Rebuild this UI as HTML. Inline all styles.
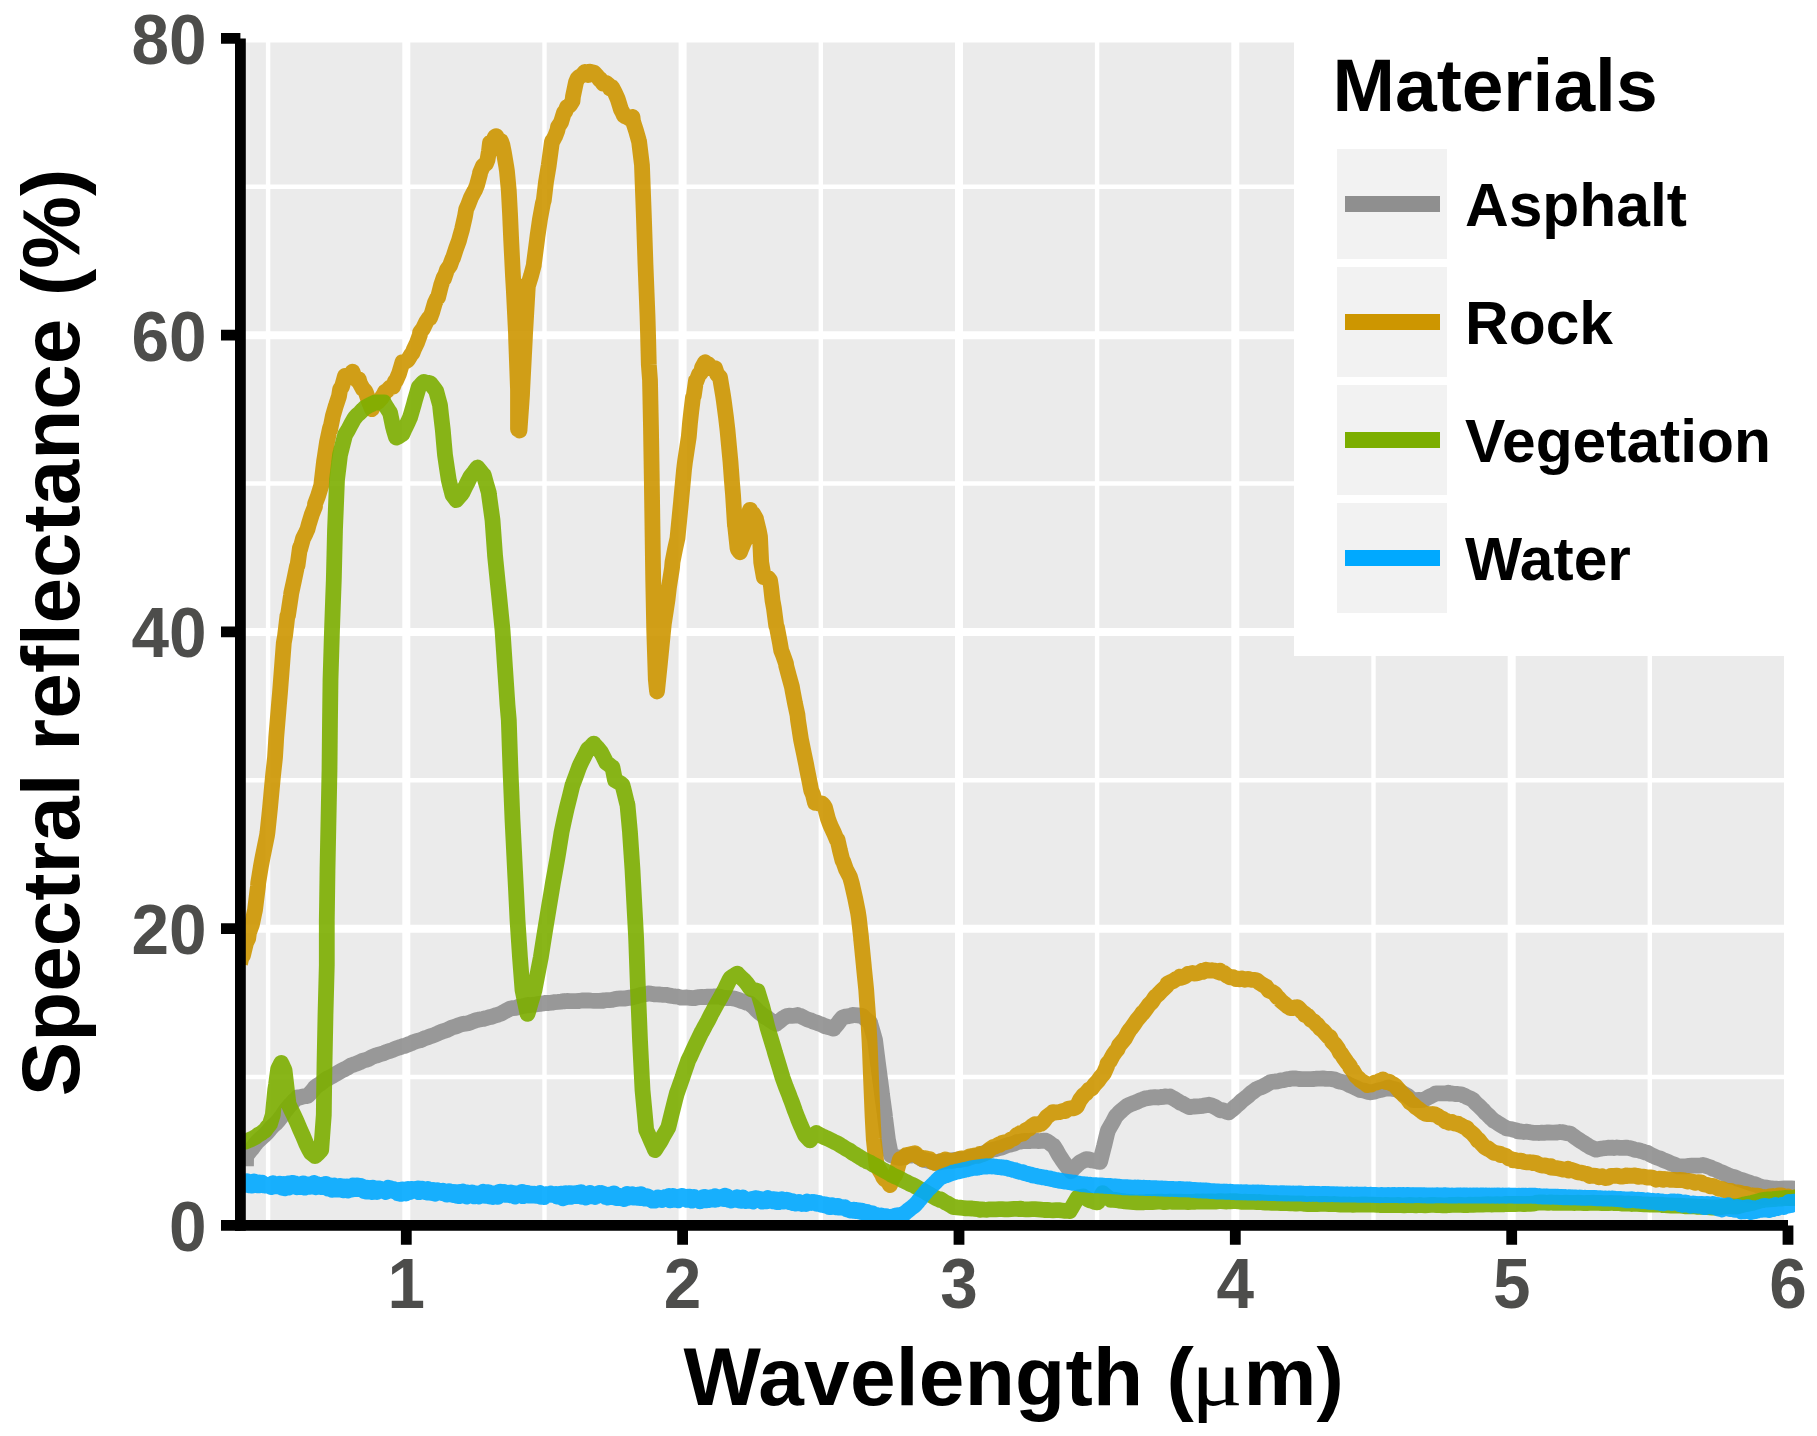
<!DOCTYPE html>
<html lang="en"><head><meta charset="utf-8"><title>Spectral reflectance</title>
<style>
html,body{margin:0;padding:0;background:#fff}
body{width:1817px;height:1436px;overflow:hidden}
svg{display:block}
text{font-family:"Liberation Sans",Arial,Helvetica,sans-serif;font-weight:bold}
.tk{font-size:68.5px;fill:#4d4d4b}
.at{font-size:82px;fill:#000}
text.mu,.mu{font-family:"Liberation Serif","DejaVu Serif",serif;font-weight:normal}
.lt{font-size:75px;fill:#000}
.ll{font-size:60.5px;fill:#000}
</style></head><body>
<svg width="1817" height="1436" viewBox="0 0 1817 1436">
<rect width="1817" height="1436" fill="#fff"/>
<rect x="240.4" y="38.4" width="1547.6" height="1187.0" fill="#ebebeb"/>
<path d="M268.1,38.4 V1225.4 M544.5,38.4 V1225.4 M820.8,38.4 V1225.4 M1097.1,38.4 V1225.4 M1373.5,38.4 V1225.4 M1649.8,38.4 V1225.4 M240.4,1077.0 H1788.0 M240.4,780.3 H1788.0 M240.4,483.5 H1788.0 M240.4,186.8 H1788.0" stroke="#fff" stroke-width="4.4" fill="none"/>
<path d="M406.3,34.4 V1225.4 M682.6,34.4 V1225.4 M959.0,34.4 V1225.4 M1235.3,34.4 V1225.4 M1511.7,34.4 V1225.4 M1788.0,34.4 V1225.4 M240.4,1225.4 H1792.0 M240.4,928.7 H1792.0 M240.4,631.9 H1792.0 M240.4,335.2 H1792.0 M240.4,38.4 H1792.0" stroke="#fff" stroke-width="8.0" fill="none"/>
<clipPath id="cp"><rect x="240.4" y="0" width="1554.6" height="1436"/></clipPath>
<g clip-path="url(#cp)">
<path d="M246.0,1166.2 L246.1,1156.0 L249.0,1152.4 L250.0,1150.9 L252.0,1148.7 L255.0,1144.4 L256.5,1142.7 L258.0,1141.1 L261.0,1138.2 L264.0,1135.6 L264.0,1135.7 L267.0,1132.7 L270.0,1129.1 L273.0,1125.7 L276.0,1123.2 L278.0,1121.0 L279.0,1119.7 L282.0,1115.9 L285.0,1111.3 L288.0,1107.5 L290.0,1105.1 L291.0,1104.1 L294.0,1100.8 L297.0,1098.3 L297.5,1097.4 L300.0,1097.6 L303.0,1096.6 L306.0,1096.0 L307.5,1096.1 L309.0,1094.4 L312.0,1091.3 L315.0,1087.5 L315.0,1087.4 L318.0,1085.2 L321.0,1083.2 L324.0,1080.8 L327.0,1078.7 L327.5,1078.8 L330.0,1077.2 L333.0,1075.7 L336.0,1073.8 L339.0,1072.1 L342.0,1070.4 L345.0,1069.0 L348.0,1067.3 L351.0,1065.4 L352.5,1064.9 L354.0,1064.5 L357.0,1063.3 L360.0,1062.1 L363.0,1060.6 L366.0,1059.9 L369.0,1058.8 L372.0,1057.0 L375.0,1055.8 L377.5,1055.2 L378.0,1054.9 L381.0,1054.0 L384.0,1053.1 L387.0,1051.8 L390.0,1050.9 L393.0,1049.8 L396.0,1048.5 L399.0,1047.5 L402.0,1046.7 L402.5,1046.1 L405.0,1045.8 L408.0,1044.5 L411.0,1043.4 L414.0,1041.9 L417.0,1040.9 L420.0,1040.3 L423.0,1039.1 L426.0,1037.8 L427.5,1037.4 L429.0,1036.8 L432.0,1035.8 L435.0,1034.7 L438.0,1033.3 L441.0,1032.0 L444.0,1030.9 L447.0,1029.9 L450.0,1028.6 L452.5,1027.3 L453.0,1027.3 L456.0,1026.4 L459.0,1025.2 L462.0,1024.1 L465.0,1023.7 L468.0,1023.2 L471.0,1022.2 L474.0,1021.0 L477.0,1019.9 L477.5,1020.1 L480.0,1019.3 L483.0,1019.0 L486.0,1018.2 L489.0,1017.3 L492.0,1016.7 L495.0,1015.5 L497.5,1014.9 L498.0,1014.7 L501.0,1013.6 L504.0,1011.9 L507.0,1010.3 L510.0,1008.6 L510.0,1008.7 L513.0,1008.1 L516.0,1007.8 L519.0,1006.6 L522.0,1006.3 L525.0,1005.8 L527.5,1004.9 L528.0,1005.4 L531.0,1005.0 L534.0,1004.7 L537.0,1004.2 L540.0,1003.8 L543.0,1003.4 L546.0,1002.8 L549.0,1003.0 L552.0,1002.7 L555.0,1002.1 L558.0,1001.9 L561.0,1001.6 L564.0,1001.2 L565.0,1001.3 L567.0,1001.0 L570.0,1001.1 L573.0,1001.2 L576.0,1001.2 L579.0,1001.0 L582.0,1000.5 L585.0,1000.5 L588.0,1000.4 L591.0,1000.7 L594.0,1000.9 L597.0,1000.9 L600.0,1000.9 L602.5,1000.5 L603.0,1000.8 L606.0,1000.1 L609.0,1000.2 L612.0,999.9 L615.0,999.1 L618.0,998.6 L621.0,998.3 L624.0,998.6 L627.0,998.1 L630.0,997.6 L630.0,997.9 L633.0,997.2 L636.0,996.4 L639.0,995.4 L642.0,994.7 L645.0,994.2 L647.5,993.7 L648.0,993.5 L651.0,993.7 L654.0,994.3 L657.0,994.4 L660.0,994.5 L663.0,994.8 L665.0,994.9 L666.0,994.8 L669.0,995.4 L672.0,996.0 L675.0,996.4 L678.0,996.7 L680.0,997.3 L681.0,997.7 L684.0,997.7 L687.0,997.5 L690.0,997.8 L693.0,998.2 L695.0,998.1 L696.0,997.6 L699.0,997.2 L702.0,996.9 L705.0,997.1 L708.0,996.6 L711.0,996.7 L714.0,996.5 L715.0,996.3 L717.0,996.6 L720.0,996.7 L723.0,997.6 L726.0,998.0 L729.0,998.1 L732.0,998.2 L735.0,998.8 L735.0,998.8 L738.0,999.7 L741.0,1000.8 L744.0,1001.6 L747.0,1002.8 L750.0,1003.4 L750.0,1003.9 L753.0,1006.2 L756.0,1009.4 L759.0,1012.2 L762.0,1014.5 L762.5,1015.0 L765.0,1016.9 L768.0,1018.4 L771.0,1020.7 L774.0,1022.6 L776.2,1023.7 L777.0,1023.2 L780.0,1020.8 L783.0,1018.2 L786.0,1016.6 L786.2,1016.2 L789.0,1015.6 L792.0,1015.8 L795.0,1015.7 L797.5,1015.0 L798.0,1015.4 L801.0,1016.2 L804.0,1017.8 L807.0,1019.3 L810.0,1020.3 L810.0,1020.1 L813.0,1021.4 L816.0,1022.4 L819.0,1023.6 L822.0,1024.7 L825.0,1026.3 L825.0,1026.1 L828.0,1027.1 L831.0,1027.7 L833.8,1028.7 L834.0,1028.0 L837.0,1024.6 L840.0,1020.5 L842.5,1017.5 L843.0,1017.3 L846.0,1016.5 L849.0,1016.1 L852.0,1015.5 L852.5,1014.9 L855.0,1015.1 L858.0,1015.4 L861.0,1015.8 L862.5,1016.1 L864.0,1017.8 L867.0,1020.3 L870.0,1022.5 L870.0,1022.6 L873.0,1032.8 L875.0,1039.8 L876.0,1047.7 L878.2,1065.0 L879.0,1071.1 L881.5,1089.9 L882.0,1094.3 L884.8,1114.8 L885.0,1117.0 L888.0,1140.3 L888.0,1139.9 L891.0,1155.3 L891.0,1154.8 L894.0,1156.1 L897.0,1157.4 L900.0,1157.9 L900.0,1157.9 L903.0,1157.4 L906.0,1156.1 L907.5,1156.1 L909.0,1155.4 L912.0,1155.5 L915.0,1154.6 L915.0,1154.8 L918.0,1156.7 L921.0,1158.5 L922.5,1159.2 L924.0,1160.0 L927.0,1160.5 L930.0,1161.2 L933.0,1162.0 L935.0,1162.8 L936.0,1162.7 L939.0,1161.7 L940.0,1161.2 L942.0,1161.5 L945.0,1161.4 L948.0,1160.6 L951.0,1160.6 L954.0,1160.1 L957.0,1159.7 L960.0,1159.5 L960.0,1160.0 L963.0,1159.3 L966.0,1158.7 L969.0,1158.0 L972.0,1156.8 L975.0,1156.1 L978.0,1155.5 L979.8,1154.9 L981.0,1154.3 L984.0,1153.1 L987.0,1151.7 L990.0,1150.3 L990.0,1150.7 L993.0,1149.5 L996.0,1149.1 L999.0,1148.0 L999.5,1147.9 L1002.0,1147.4 L1005.0,1146.2 L1008.0,1145.0 L1011.0,1144.4 L1014.0,1143.6 L1017.0,1142.1 L1019.4,1141.7 L1020.0,1141.7 L1023.0,1141.1 L1026.0,1140.8 L1029.0,1141.2 L1032.0,1140.6 L1032.6,1140.9 L1035.0,1140.5 L1038.0,1141.1 L1041.0,1140.9 L1044.0,1140.6 L1045.8,1140.7 L1047.0,1141.3 L1050.0,1143.3 L1053.0,1145.7 L1053.8,1146.0 L1056.0,1149.6 L1059.0,1155.1 L1061.7,1159.2 L1062.0,1159.7 L1065.0,1164.0 L1068.0,1167.9 L1071.0,1171.2 L1071.0,1171.3 L1074.0,1168.1 L1077.0,1165.2 L1078.9,1163.5 L1080.0,1162.4 L1083.0,1160.9 L1085.5,1159.5 L1086.0,1159.1 L1089.0,1159.4 L1092.0,1160.5 L1094.8,1160.8 L1095.0,1160.7 L1098.0,1161.6 L1100.1,1161.9 L1101.0,1158.4 L1104.0,1146.3 L1104.1,1146.2 L1107.0,1134.0 L1108.0,1130.4 L1110.0,1126.9 L1113.0,1121.6 L1116.0,1115.8 L1116.0,1116.2 L1119.0,1112.9 L1122.0,1110.1 L1125.0,1107.7 L1127.9,1105.3 L1128.0,1105.5 L1131.0,1104.1 L1134.0,1103.0 L1137.0,1101.8 L1140.0,1100.4 L1143.0,1099.3 L1145.1,1098.4 L1146.0,1098.3 L1149.0,1097.9 L1152.0,1097.4 L1155.0,1097.2 L1158.0,1097.5 L1161.0,1097.0 L1164.0,1096.8 L1164.9,1096.4 L1167.0,1096.6 L1170.0,1096.7 L1170.0,1096.4 L1173.0,1098.2 L1176.0,1099.9 L1179.0,1101.7 L1180.0,1102.6 L1182.0,1103.2 L1185.0,1105.0 L1188.0,1106.5 L1190.0,1107.2 L1191.0,1106.9 L1194.0,1106.5 L1197.0,1106.3 L1200.0,1106.1 L1203.0,1105.8 L1206.0,1105.2 L1209.0,1104.7 L1210.0,1105.0 L1212.0,1105.6 L1215.0,1107.0 L1218.0,1108.9 L1220.0,1110.2 L1221.0,1109.9 L1224.0,1110.7 L1227.0,1111.9 L1228.8,1112.4 L1230.0,1111.2 L1233.0,1108.9 L1236.0,1106.1 L1239.0,1103.7 L1240.0,1102.7 L1242.0,1100.7 L1245.0,1098.3 L1248.0,1096.0 L1251.0,1093.1 L1254.0,1091.1 L1255.0,1090.2 L1257.0,1088.8 L1260.0,1087.7 L1263.0,1086.4 L1266.0,1084.9 L1269.0,1083.0 L1270.0,1082.4 L1272.0,1081.8 L1275.0,1081.5 L1278.0,1081.3 L1281.0,1080.4 L1284.0,1080.2 L1287.0,1079.1 L1290.0,1079.0 L1290.0,1078.6 L1293.0,1078.5 L1296.0,1078.5 L1299.0,1079.0 L1302.0,1079.1 L1305.0,1079.2 L1308.0,1079.2 L1311.0,1079.1 L1314.0,1079.0 L1317.0,1078.6 L1320.0,1078.6 L1323.0,1078.4 L1326.0,1078.8 L1329.0,1078.9 L1330.0,1078.8 L1332.0,1079.1 L1335.0,1079.6 L1338.0,1081.0 L1341.0,1081.8 L1344.0,1082.4 L1345.0,1082.6 L1347.0,1083.6 L1350.0,1085.3 L1353.0,1086.6 L1356.0,1087.9 L1359.0,1089.4 L1360.0,1089.9 L1362.0,1090.3 L1365.0,1090.8 L1368.0,1092.0 L1370.0,1092.3 L1371.0,1092.2 L1374.0,1091.7 L1377.0,1090.7 L1380.0,1090.1 L1383.0,1089.3 L1386.0,1088.6 L1387.5,1088.7 L1387.5,1087.6 L1389.0,1087.5 L1392.0,1088.7 L1395.0,1089.3 L1398.0,1089.9 L1398.0,1089.8 L1401.0,1092.1 L1404.0,1093.8 L1407.0,1095.5 L1410.0,1097.9 L1413.0,1100.0 L1413.0,1100.2 L1416.0,1100.1 L1419.0,1100.0 L1422.0,1100.1 L1423.0,1099.9 L1425.0,1099.2 L1428.0,1097.4 L1431.0,1096.0 L1434.0,1094.5 L1435.5,1093.6 L1437.0,1093.4 L1440.0,1093.3 L1443.0,1093.3 L1446.0,1093.4 L1448.0,1092.8 L1449.0,1093.6 L1452.0,1093.5 L1455.0,1094.0 L1458.0,1094.0 L1461.0,1094.3 L1463.0,1095.2 L1464.0,1095.3 L1467.0,1097.2 L1470.0,1098.3 L1473.0,1100.1 L1473.0,1100.2 L1476.0,1103.4 L1479.0,1106.0 L1482.0,1109.1 L1483.0,1109.9 L1485.0,1112.3 L1488.0,1115.0 L1491.0,1118.2 L1493.0,1119.8 L1494.0,1120.8 L1497.0,1122.6 L1500.0,1124.5 L1503.0,1126.4 L1505.5,1127.6 L1506.0,1128.2 L1509.0,1128.8 L1512.0,1129.3 L1515.0,1130.1 L1518.0,1130.9 L1518.0,1131.4 L1521.0,1131.5 L1524.0,1132.0 L1527.0,1131.7 L1530.0,1132.3 L1533.0,1132.8 L1536.0,1132.8 L1538.0,1132.8 L1539.0,1133.0 L1542.0,1132.6 L1545.0,1132.8 L1548.0,1132.3 L1551.0,1132.7 L1554.0,1132.7 L1557.0,1132.5 L1560.0,1132.0 L1563.0,1132.3 L1563.0,1132.1 L1566.0,1133.2 L1569.0,1133.3 L1570.5,1133.9 L1572.0,1135.0 L1575.0,1137.2 L1578.0,1139.2 L1581.0,1141.3 L1583.0,1142.5 L1584.0,1143.1 L1587.0,1145.1 L1590.0,1146.9 L1593.0,1148.2 L1595.5,1149.5 L1596.0,1149.7 L1599.0,1149.1 L1602.0,1148.5 L1605.0,1148.2 L1608.0,1147.7 L1611.0,1147.9 L1613.0,1147.6 L1614.0,1148.0 L1617.0,1147.5 L1620.0,1147.8 L1623.0,1147.8 L1626.0,1147.6 L1628.0,1147.9 L1629.0,1148.0 L1632.0,1148.7 L1635.0,1149.9 L1638.0,1150.2 L1641.0,1151.0 L1644.0,1151.9 L1645.5,1152.4 L1647.0,1152.7 L1650.0,1154.4 L1653.0,1155.8 L1656.0,1157.3 L1659.0,1158.2 L1662.0,1159.4 L1663.0,1160.1 L1665.0,1160.8 L1668.0,1161.9 L1671.0,1163.3 L1674.0,1164.4 L1677.0,1165.9 L1678.0,1166.3 L1680.0,1166.4 L1683.0,1166.3 L1686.0,1166.3 L1689.0,1165.9 L1692.0,1165.6 L1695.0,1165.7 L1698.0,1165.6 L1701.0,1165.3 L1703.0,1165.0 L1704.0,1165.3 L1707.0,1166.3 L1710.0,1167.2 L1713.0,1168.9 L1713.0,1168.7 L1716.0,1169.7 L1719.0,1171.3 L1722.0,1172.4 L1725.0,1173.9 L1728.0,1175.1 L1731.0,1176.5 L1734.0,1177.0 L1737.0,1178.3 L1738.0,1178.9 L1740.0,1179.5 L1743.0,1180.4 L1746.0,1181.5 L1749.0,1182.5 L1752.0,1183.6 L1755.0,1184.3 L1758.0,1185.6 L1761.0,1186.7 L1763.0,1187.4 L1764.0,1187.4 L1767.0,1187.7 L1770.0,1188.3 L1773.0,1188.5 L1776.0,1188.6 L1778.0,1188.8 L1779.0,1188.9 L1782.0,1188.7 L1785.0,1188.5 L1788.0,1188.3 L1791.0,1188.4 L1794.0,1188.7 L1795.0,1188.8 L1805.0,1188.8" fill="none" stroke="#8f8f8f" stroke-opacity="0.9" stroke-width="15.8" stroke-linejoin="round" stroke-linecap="butt"/>
<path d="M240.0,963.6 L242.5,952.8 L243.0,955.5 L246.0,943.0 L248.2,938.3 L249.0,932.5 L252.0,924.2 L254.2,913.6 L255.0,910.0 L258.0,885.9 L258.2,883.1 L261.0,865.8 L262.5,857.8 L264.0,850.4 L267.0,835.7 L267.5,832.2 L270.0,808.2 L271.2,795.3 L273.0,776.0 L275.0,757.7 L276.0,741.8 L276.2,737.8 L279.0,704.0 L280.0,692.6 L282.0,666.7 L283.8,642.8 L285.0,636.2 L287.5,615.1 L288.0,615.3 L291.0,595.4 L291.2,593.5 L294.0,580.6 L297.0,566.1 L297.5,565.6 L300.0,547.2 L300.0,549.7 L303.0,538.6 L306.0,532.6 L307.5,529.3 L309.0,523.6 L312.0,513.9 L315.0,506.6 L315.0,504.0 L318.0,496.1 L321.0,486.4 L321.2,485.8 L324.0,461.8 L325.0,455.5 L327.0,442.1 L330.0,428.1 L330.0,430.3 L333.0,415.4 L336.0,405.2 L336.2,404.8 L339.0,396.3 L340.0,390.0 L340.1,389.3 L342.0,386.6 L345.0,375.9 L345.0,377.1 L348.0,376.9 L351.0,375.5 L352.5,371.6 L354.0,376.0 L357.0,380.0 L358.8,379.3 L360.0,383.6 L363.0,389.1 L365.0,390.8 L366.0,392.8 L369.0,401.8 L372.0,409.2 L372.5,407.4 L375.0,403.5 L378.0,401.7 L381.0,398.6 L384.0,394.0 L385.0,391.8 L387.0,390.8 L390.0,387.5 L393.0,386.7 L395.0,381.4 L396.0,380.6 L399.0,373.8 L402.0,363.8 L402.5,362.1 L405.0,362.0 L408.0,359.8 L411.0,354.8 L412.5,353.0 L414.0,349.1 L417.0,342.9 L420.0,334.5 L420.0,332.5 L423.0,328.6 L426.0,322.3 L429.0,317.7 L430.0,318.1 L432.0,312.7 L435.0,302.6 L437.5,297.3 L438.0,297.5 L441.0,285.6 L443.8,277.2 L444.0,278.8 L447.0,269.8 L450.0,265.5 L452.5,258.6 L453.0,258.0 L456.0,248.8 L459.0,240.5 L460.0,236.6 L462.0,229.6 L465.0,216.3 L466.2,209.2 L468.0,205.3 L471.0,197.4 L474.0,191.7 L475.0,190.2 L477.0,185.1 L480.0,173.9 L480.0,172.8 L483.0,165.8 L486.0,163.6 L487.5,159.8 L489.0,151.0 L490.0,142.7 L492.0,143.2 L495.0,136.8 L496.2,136.1 L498.0,139.7 L501.0,141.0 L502.5,145.4 L504.0,153.1 L506.2,166.0 L507.0,171.4 L508.8,190.8 L510.0,213.2 L511.2,240.4 L513.0,276.3 L513.8,289.9 L516.0,333.4 L516.2,341.2 L518.0,389.9 L518.0,429.3 L519.0,428.9 L519.5,430.5 L522.0,395.3 L522.2,390.5 L524.8,339.7 L525.0,335.0 L528.0,283.2 L528.0,285.6 L531.0,275.9 L533.8,265.3 L534.0,263.1 L537.0,240.2 L537.5,236.1 L540.0,219.0 L543.0,202.8 L543.8,200.3 L546.0,182.0 L548.8,165.1 L549.0,163.5 L552.0,141.2 L552.5,141.2 L555.0,136.6 L557.5,130.1 L558.0,126.9 L561.0,122.4 L564.0,112.5 L565.0,112.2 L567.0,107.1 L570.0,105.1 L572.5,101.1 L573.0,96.3 L576.0,82.1 L577.5,78.7 L579.0,77.1 L582.0,75.2 L585.0,71.9 L588.0,75.0 L590.0,71.6 L591.0,72.0 L594.0,72.7 L597.0,75.9 L600.0,80.0 L600.0,78.9 L603.0,83.5 L606.0,82.9 L609.0,85.4 L610.0,88.4 L612.0,87.2 L615.0,92.9 L617.5,98.5 L618.0,99.9 L621.0,109.6 L622.5,112.2 L624.0,115.9 L627.0,117.0 L630.0,118.9 L632.5,116.9 L633.0,121.3 L636.0,130.7 L638.8,140.5 L639.0,140.7 L642.0,165.4 L642.0,166.1 L643.8,214.3 L645.0,249.9 L645.5,264.9 L647.5,315.4 L648.0,332.6 L648.8,364.3 L650.0,379.8 L651.0,428.9 L651.0,429.1 L651.8,479.9 L652.5,529.3 L653.2,578.9 L654.0,619.1 L654.2,629.7 L655.8,679.1 L657.0,691.1 L657.0,691.5 L660.0,662.5 L663.0,631.9 L663.8,624.1 L666.0,609.9 L667.5,599.8 L669.0,586.9 L672.0,568.0 L672.5,562.0 L675.0,549.4 L677.5,538.1 L678.0,532.8 L681.0,502.2 L681.2,499.8 L684.0,469.9 L685.0,461.8 L687.0,448.6 L688.8,436.7 L690.0,422.9 L691.2,412.0 L693.0,397.3 L693.8,395.6 L696.0,380.5 L696.2,381.8 L699.0,374.3 L701.2,372.4 L702.0,367.8 L705.0,362.2 L705.0,363.2 L708.0,363.9 L711.0,367.4 L714.0,369.3 L715.0,368.1 L717.0,374.1 L720.0,377.4 L720.0,377.4 L723.0,395.3 L723.8,400.6 L726.0,417.2 L727.5,430.2 L729.0,446.2 L730.5,462.1 L732.0,482.4 L733.0,494.4 L735.0,526.0 L735.0,524.5 L737.5,547.9 L738.0,549.4 L740.0,552.3 L741.0,549.6 L744.0,542.2 L745.0,540.5 L747.0,522.0 L747.5,518.2 L750.0,509.8 L750.0,511.8 L753.0,513.6 L756.0,518.7 L756.2,520.0 L759.0,531.4 L760.0,536.8 L761.2,562.2 L762.0,567.1 L763.8,577.1 L765.0,577.3 L768.0,577.8 L770.0,580.2 L771.0,586.6 L772.5,600.3 L774.0,608.7 L776.2,625.6 L777.0,627.5 L780.0,643.4 L781.2,650.3 L783.0,655.0 L786.0,663.6 L786.2,665.7 L789.0,676.2 L792.0,687.2 L792.5,690.2 L795.0,703.4 L797.5,715.0 L798.0,720.0 L801.0,739.6 L801.2,740.5 L804.0,754.0 L806.2,764.7 L807.0,768.9 L810.0,784.0 L811.2,790.4 L813.0,794.6 L815.0,802.8 L816.0,802.1 L819.0,803.5 L822.0,803.5 L823.8,805.5 L825.0,807.5 L828.0,818.9 L830.0,824.4 L831.0,826.7 L834.0,833.0 L837.0,840.2 L837.5,839.6 L840.0,850.7 L842.5,860.6 L843.0,860.8 L846.0,869.4 L849.0,875.2 L850.0,877.0 L852.0,884.2 L855.0,897.6 L855.0,897.4 L858.0,912.4 L858.8,917.6 L861.0,936.8 L861.2,940.0 L861.3,940.5 L863.8,965.7 L864.0,968.1 L866.2,989.8 L867.0,1001.4 L868.0,1014.5 L869.5,1040.6 L870.0,1051.4 L870.5,1064.9 L871.5,1089.6 L872.5,1114.5 L873.0,1124.5 L873.8,1139.3 L876.0,1160.0 L876.5,1165.1 L879.0,1169.4 L882.0,1174.3 L883.2,1177.2 L885.0,1179.4 L888.0,1181.5 L890.0,1185.1 L891.0,1181.9 L894.0,1176.3 L895.0,1175.6 L897.0,1170.0 L900.0,1159.1 L900.0,1160.0 L903.0,1158.4 L906.0,1155.3 L907.5,1155.6 L909.0,1154.7 L912.0,1153.9 L915.0,1153.5 L915.0,1153.1 L918.0,1156.4 L921.0,1157.7 L922.5,1159.1 L924.0,1158.1 L927.0,1158.6 L930.0,1159.3 L933.0,1162.3 L935.0,1162.9 L936.0,1162.7 L939.0,1162.6 L940.0,1161.4 L942.0,1161.7 L945.0,1159.4 L948.0,1160.3 L951.0,1160.8 L954.0,1160.7 L957.0,1159.9 L959.8,1158.7 L960.0,1159.0 L963.0,1158.3 L966.0,1158.5 L969.0,1156.6 L972.0,1156.1 L975.0,1155.3 L978.0,1155.8 L979.7,1154.1 L981.0,1154.8 L984.0,1153.8 L987.0,1152.2 L990.0,1149.2 L993.0,1147.1 L996.0,1146.2 L999.0,1144.3 L999.5,1144.9 L1002.0,1143.0 L1005.0,1142.3 L1008.0,1141.6 L1011.0,1139.4 L1014.0,1138.3 L1017.0,1134.8 L1019.4,1134.4 L1020.0,1133.2 L1023.0,1133.5 L1026.0,1130.1 L1029.0,1128.7 L1032.0,1126.1 L1035.0,1124.2 L1038.0,1124.9 L1039.2,1123.6 L1041.0,1123.8 L1044.0,1120.8 L1047.0,1116.7 L1050.0,1114.4 L1052.5,1112.8 L1053.0,1112.1 L1056.0,1112.5 L1059.0,1112.2 L1062.0,1111.2 L1065.0,1110.6 L1065.7,1110.9 L1068.0,1108.7 L1071.0,1108.2 L1074.0,1108.3 L1076.3,1106.9 L1077.0,1106.2 L1080.0,1099.9 L1082.9,1096.1 L1083.0,1095.6 L1086.0,1093.4 L1089.0,1089.8 L1092.0,1088.2 L1092.2,1087.8 L1095.0,1084.1 L1098.0,1080.9 L1101.0,1076.7 L1102.7,1074.8 L1104.0,1073.0 L1107.0,1066.2 L1107.5,1063.5 L1110.0,1060.8 L1113.0,1055.1 L1116.0,1050.9 L1117.5,1049.2 L1119.0,1045.5 L1122.0,1042.0 L1125.0,1038.4 L1128.0,1032.6 L1130.0,1029.5 L1131.0,1028.5 L1134.0,1024.3 L1137.0,1019.9 L1140.0,1016.4 L1142.5,1012.8 L1143.0,1013.0 L1146.0,1009.0 L1149.0,1004.7 L1152.0,1001.9 L1155.0,997.0 L1155.0,997.2 L1158.0,994.5 L1161.0,991.3 L1164.0,988.5 L1167.0,985.6 L1167.5,983.7 L1170.0,982.3 L1173.0,981.1 L1176.0,979.1 L1179.0,977.9 L1180.0,976.6 L1182.0,977.7 L1185.0,976.3 L1188.0,973.9 L1191.0,973.5 L1192.5,973.0 L1194.0,973.5 L1197.0,973.4 L1200.0,972.3 L1202.5,970.6 L1203.0,971.9 L1206.0,969.6 L1209.0,970.7 L1211.8,970.1 L1212.0,970.3 L1215.0,970.6 L1218.0,971.8 L1220.0,970.7 L1221.0,972.9 L1224.0,972.9 L1227.0,975.8 L1227.5,975.9 L1230.0,977.3 L1233.0,977.1 L1236.0,979.1 L1236.2,978.3 L1239.0,979.3 L1242.0,978.5 L1245.0,979.8 L1248.0,978.9 L1251.0,979.8 L1254.0,979.8 L1255.0,979.8 L1257.0,980.6 L1260.0,983.1 L1263.0,984.9 L1265.0,986.2 L1266.0,986.4 L1269.0,990.7 L1272.0,991.8 L1275.0,993.8 L1277.5,997.3 L1278.0,997.4 L1281.0,1000.9 L1284.0,1003.3 L1287.0,1005.9 L1290.0,1007.7 L1290.0,1008.0 L1293.0,1008.0 L1296.0,1007.3 L1297.5,1007.2 L1299.0,1008.4 L1302.0,1011.8 L1305.0,1013.8 L1305.0,1015.0 L1308.0,1016.0 L1311.0,1019.9 L1314.0,1021.5 L1317.0,1024.9 L1317.5,1024.7 L1320.0,1028.3 L1323.0,1030.5 L1326.0,1033.9 L1329.0,1037.3 L1330.0,1037.0 L1332.0,1041.6 L1335.0,1044.5 L1338.0,1048.6 L1340.0,1052.7 L1341.0,1053.4 L1344.0,1058.2 L1347.0,1062.4 L1350.0,1066.2 L1350.0,1067.3 L1353.0,1070.9 L1356.0,1076.0 L1359.0,1078.8 L1360.0,1080.0 L1362.0,1081.4 L1365.0,1083.1 L1367.5,1085.2 L1368.0,1084.6 L1371.0,1084.7 L1374.0,1082.9 L1377.0,1082.4 L1380.0,1081.3 L1380.0,1080.8 L1383.0,1080.1 L1383.0,1079.5 L1386.0,1082.1 L1389.0,1081.6 L1392.0,1083.9 L1393.0,1084.0 L1395.0,1085.5 L1398.0,1089.0 L1401.0,1092.5 L1403.0,1094.3 L1404.0,1095.5 L1407.0,1098.2 L1410.0,1102.4 L1413.0,1104.3 L1413.0,1104.4 L1416.0,1107.3 L1419.0,1109.3 L1422.0,1111.7 L1423.0,1112.4 L1425.0,1113.6 L1428.0,1114.1 L1431.0,1114.1 L1433.0,1114.3 L1434.0,1114.1 L1437.0,1115.4 L1440.0,1117.6 L1443.0,1119.0 L1445.5,1121.6 L1446.0,1120.6 L1449.0,1122.7 L1452.0,1121.9 L1455.0,1123.7 L1458.0,1123.7 L1458.0,1124.3 L1461.0,1125.3 L1464.0,1127.0 L1467.0,1128.2 L1468.0,1130.0 L1470.0,1131.5 L1473.0,1134.0 L1476.0,1137.5 L1478.0,1140.6 L1479.0,1140.2 L1482.0,1144.2 L1485.0,1147.4 L1488.0,1149.0 L1488.0,1148.2 L1491.0,1150.7 L1494.0,1152.9 L1497.0,1153.2 L1500.0,1153.8 L1500.5,1155.0 L1503.0,1155.1 L1506.0,1156.1 L1509.0,1158.4 L1512.0,1159.3 L1513.0,1160.4 L1515.0,1159.8 L1518.0,1161.2 L1521.0,1160.6 L1524.0,1161.9 L1527.0,1162.3 L1530.0,1162.1 L1533.0,1163.2 L1533.0,1162.4 L1536.0,1163.0 L1539.0,1164.6 L1542.0,1165.7 L1545.0,1165.5 L1548.0,1166.3 L1550.5,1166.2 L1551.0,1167.6 L1554.0,1167.8 L1557.0,1168.1 L1560.0,1168.8 L1563.0,1169.5 L1566.0,1169.6 L1568.0,1168.7 L1569.0,1170.6 L1572.0,1170.0 L1575.0,1171.2 L1578.0,1172.4 L1581.0,1172.7 L1584.0,1173.5 L1587.0,1173.8 L1588.0,1174.9 L1590.0,1176.0 L1593.0,1175.6 L1596.0,1175.9 L1599.0,1177.3 L1602.0,1176.3 L1605.0,1178.1 L1608.0,1177.0 L1608.0,1177.9 L1611.0,1175.8 L1614.0,1175.8 L1617.0,1175.6 L1620.0,1176.5 L1623.0,1176.5 L1625.5,1175.6 L1626.0,1176.1 L1629.0,1175.6 L1632.0,1175.8 L1635.0,1175.4 L1638.0,1176.8 L1638.0,1175.9 L1641.0,1176.6 L1644.0,1176.6 L1647.0,1177.7 L1650.0,1177.3 L1653.0,1177.8 L1656.0,1179.7 L1659.0,1178.7 L1662.0,1178.8 L1663.0,1179.8 L1665.0,1179.0 L1668.0,1179.3 L1671.0,1179.9 L1674.0,1179.8 L1677.0,1180.1 L1680.0,1180.0 L1683.0,1180.1 L1686.0,1181.1 L1688.0,1181.6 L1689.0,1181.0 L1692.0,1181.5 L1695.0,1182.9 L1698.0,1182.1 L1701.0,1182.3 L1703.0,1184.0 L1704.0,1184.5 L1707.0,1184.8 L1710.0,1186.3 L1713.0,1185.9 L1716.0,1187.2 L1719.0,1188.9 L1722.0,1188.9 L1725.0,1190.4 L1725.5,1190.4 L1728.0,1191.0 L1731.0,1191.0 L1734.0,1192.8 L1737.0,1192.4 L1740.0,1192.9 L1743.0,1193.8 L1746.0,1193.8 L1749.0,1195.4 L1750.5,1195.2 L1752.0,1195.5 L1755.0,1195.6 L1758.0,1195.6 L1761.0,1196.7 L1764.0,1197.2 L1767.0,1197.2 L1770.0,1196.3 L1773.0,1196.0 L1775.5,1196.7 L1776.0,1196.3 L1779.0,1195.4 L1782.0,1195.4 L1785.0,1197.6 L1788.0,1196.4 L1791.0,1198.0 L1794.0,1198.1 L1795.0,1197.5 L1805.0,1197.5" fill="none" stroke="#cd9600" stroke-opacity="0.9" stroke-width="15.8" stroke-linejoin="round" stroke-linecap="butt"/>
<path d="M240.0,1142.3 L243.0,1141.9 L246.0,1141.2 L246.2,1141.4 L249.0,1140.1 L252.0,1138.9 L255.0,1137.3 L255.0,1137.5 L258.0,1135.0 L261.0,1133.4 L264.0,1131.1 L265.0,1130.6 L267.0,1127.6 L270.0,1124.0 L270.0,1123.8 L272.8,1114.9 L273.0,1112.6 L275.2,1089.9 L276.0,1084.9 L278.2,1068.8 L279.0,1067.4 L281.2,1062.9 L282.0,1064.7 L284.5,1070.0 L285.0,1074.0 L288.0,1099.6 L288.5,1103.9 L291.0,1109.4 L294.0,1115.7 L296.5,1121.1 L297.0,1122.3 L300.0,1129.3 L303.0,1136.0 L306.0,1143.3 L307.0,1145.4 L309.0,1149.3 L311.0,1152.9 L312.0,1153.7 L315.0,1155.9 L315.0,1156.2 L318.0,1153.4 L321.0,1150.3 L321.2,1150.1 L323.8,1114.9 L324.0,1098.5 L324.5,1064.9 L325.5,1014.9 L326.8,964.9 L326.8,920.0 L327.0,906.0 L327.5,869.9 L328.5,820.0 L329.5,770.1 L330.0,720.2 L330.0,720.1 L330.5,680.0 L332.0,630.1 L333.0,601.8 L333.8,580.0 L335.0,530.1 L336.0,505.1 L337.0,479.9 L339.0,463.5 L340.0,455.0 L342.0,447.0 L345.0,435.3 L345.0,435.0 L348.0,430.1 L351.0,424.4 L354.0,419.0 L355.0,417.6 L357.0,415.2 L360.0,412.7 L363.0,409.5 L365.0,407.5 L366.0,407.1 L369.0,405.4 L372.0,404.0 L375.0,402.4 L375.0,402.5 L378.0,402.4 L381.0,402.5 L383.8,402.4 L384.0,403.0 L387.0,408.0 L390.0,412.7 L390.0,412.4 L393.0,426.8 L393.8,429.9 L396.0,437.1 L396.2,437.6 L399.0,436.3 L402.0,434.3 L402.5,433.9 L405.0,428.2 L408.0,422.0 L410.0,417.6 L411.0,414.3 L414.0,403.9 L415.0,400.0 L417.0,393.2 L418.8,387.1 L420.0,385.9 L423.0,382.6 L423.8,381.9 L426.0,382.5 L429.0,382.9 L430.0,383.0 L432.0,385.5 L435.0,389.3 L436.2,391.1 L438.0,397.8 L440.0,405.0 L441.0,414.4 L442.8,429.9 L444.0,443.8 L445.0,454.9 L447.0,468.5 L448.8,480.1 L450.0,485.0 L452.5,494.9 L453.0,495.5 L456.0,499.5 L456.2,500.1 L459.0,496.8 L462.0,493.4 L462.5,492.6 L465.0,487.3 L468.0,481.5 L470.0,477.4 L471.0,475.9 L474.0,472.2 L477.0,468.1 L477.5,467.5 L480.0,470.7 L483.0,474.5 L483.8,475.1 L486.0,483.0 L488.8,492.6 L489.0,494.7 L492.0,516.3 L492.5,520.0 L495.0,554.7 L495.0,555.1 L498.0,585.0 L498.8,592.6 L501.0,614.7 L502.5,629.9 L504.0,652.2 L505.0,667.5 L507.0,697.3 L507.5,705.0 L508.8,720.0 L510.0,755.7 L510.5,770.1 L512.5,820.0 L513.0,829.8 L515.0,870.1 L516.0,889.7 L517.5,919.9 L519.0,942.6 L520.0,957.5 L522.0,983.4 L522.5,989.9 L525.0,1002.1 L527.5,1013.8 L528.0,1012.4 L531.0,1001.9 L534.0,991.7 L534.5,990.1 L537.0,977.0 L540.0,961.5 L540.8,957.5 L543.0,943.5 L546.0,924.8 L546.8,920.0 L549.0,906.6 L552.0,888.8 L553.0,882.5 L555.0,871.5 L557.5,857.4 L558.0,854.4 L561.0,835.8 L561.5,832.5 L564.0,820.6 L565.8,812.5 L567.0,807.2 L570.0,795.4 L572.5,785.0 L573.0,783.8 L576.0,775.7 L579.0,767.4 L580.0,765.0 L582.0,760.9 L585.0,755.0 L587.5,750.0 L588.0,749.2 L591.0,746.5 L593.8,743.7 L594.0,744.1 L597.0,747.3 L600.0,751.0 L601.2,752.5 L603.0,756.0 L606.0,762.1 L606.2,762.6 L609.0,764.6 L612.0,767.2 L612.5,767.4 L615.0,780.2 L615.0,780.1 L618.0,781.8 L621.0,783.7 L622.5,785.1 L624.0,791.0 L627.0,803.3 L627.5,805.0 L630.0,832.4 L630.0,832.6 L632.5,869.9 L633.0,879.3 L634.5,907.6 L636.0,935.4 L636.2,939.9 L638.0,990.0 L639.0,1014.9 L640.0,1040.1 L642.0,1079.9 L642.5,1089.9 L645.0,1116.5 L646.2,1130.0 L648.0,1133.9 L651.0,1140.9 L654.0,1147.6 L655.0,1150.1 L657.0,1146.7 L660.0,1142.1 L661.2,1140.1 L663.0,1136.6 L666.0,1131.5 L668.2,1127.6 L669.0,1124.6 L672.0,1112.4 L675.0,1100.3 L676.8,1093.5 L678.0,1090.1 L681.0,1081.6 L682.5,1077.4 L684.0,1072.8 L687.0,1064.1 L688.2,1060.5 L690.0,1056.9 L693.0,1050.3 L696.0,1043.9 L699.0,1037.6 L701.5,1032.4 L702.0,1031.7 L705.0,1026.0 L708.0,1020.6 L711.0,1014.6 L713.0,1010.9 L714.0,1009.0 L717.0,1003.7 L720.0,998.4 L723.0,992.8 L724.8,989.6 L726.0,986.9 L729.0,980.7 L730.5,978.0 L732.0,977.0 L735.0,975.1 L737.5,973.6 L738.0,974.4 L741.0,977.5 L744.0,980.1 L745.0,981.2 L747.0,983.6 L750.0,987.8 L751.2,989.2 L753.0,989.8 L756.0,990.6 L757.5,990.9 L759.0,995.8 L762.0,1005.6 L762.5,1007.4 L765.0,1017.3 L767.5,1027.6 L768.0,1029.3 L771.0,1039.1 L774.0,1049.0 L775.0,1052.6 L777.0,1059.1 L780.0,1069.1 L782.5,1077.4 L783.0,1078.8 L786.0,1087.1 L789.0,1094.7 L790.0,1097.4 L792.0,1102.5 L795.0,1111.0 L797.5,1117.5 L798.0,1118.9 L801.0,1126.1 L804.0,1132.8 L805.0,1135.0 L807.0,1137.3 L810.0,1140.4 L810.0,1140.0 L813.0,1136.6 L816.0,1133.4 L816.2,1132.9 L819.0,1134.6 L822.0,1136.1 L825.0,1137.5 L828.0,1138.8 L831.0,1140.3 L834.0,1141.8 L837.0,1143.2 L840.0,1144.9 L840.0,1145.1 L843.0,1146.7 L846.0,1148.7 L849.0,1150.2 L852.0,1152.4 L855.0,1154.2 L858.0,1156.1 L861.0,1157.9 L864.0,1159.8 L865.0,1160.0 L867.0,1161.3 L870.0,1162.5 L873.0,1164.5 L876.0,1165.9 L879.0,1167.5 L882.0,1169.4 L885.0,1171.0 L888.0,1172.6 L890.0,1173.6 L891.0,1174.5 L894.0,1175.9 L897.0,1177.2 L900.0,1178.6 L903.0,1180.4 L906.0,1181.8 L909.0,1183.4 L912.0,1184.7 L915.0,1186.1 L915.0,1186.3 L918.0,1187.9 L921.0,1189.7 L924.0,1191.1 L927.0,1193.0 L930.0,1194.8 L933.0,1196.4 L936.0,1198.1 L939.0,1199.3 L940.0,1200.1 L940.0,1199.1 L942.0,1200.3 L945.0,1202.3 L948.0,1203.7 L951.0,1205.5 L953.2,1207.0 L954.0,1206.9 L957.0,1207.3 L960.0,1207.6 L963.0,1208.0 L966.0,1208.4 L969.0,1208.3 L972.0,1208.5 L975.0,1208.8 L978.0,1209.1 L979.7,1209.8 L981.0,1209.3 L984.0,1209.7 L987.0,1209.8 L990.0,1209.3 L993.0,1209.4 L996.0,1209.3 L999.0,1209.2 L1002.0,1209.1 L1005.0,1209.3 L1008.0,1209.3 L1011.0,1209.1 L1014.0,1208.9 L1017.0,1208.9 L1019.4,1209.1 L1020.0,1208.7 L1023.0,1209.1 L1026.0,1209.3 L1029.0,1209.3 L1032.0,1209.2 L1035.0,1209.2 L1038.0,1209.4 L1041.0,1209.7 L1044.0,1210.0 L1047.0,1209.9 L1050.0,1210.2 L1053.0,1210.3 L1056.0,1210.2 L1059.0,1210.2 L1059.1,1210.2 L1062.0,1210.5 L1065.0,1210.8 L1068.0,1210.9 L1069.7,1211.0 L1071.0,1208.9 L1074.0,1203.8 L1077.0,1198.6 L1077.6,1197.6 L1080.0,1197.1 L1082.9,1196.4 L1083.0,1196.6 L1086.0,1198.1 L1089.0,1200.0 L1089.5,1200.3 L1092.0,1200.9 L1095.0,1202.0 L1097.4,1202.4 L1098.0,1201.8 L1101.0,1196.2 L1102.7,1193.2 L1104.0,1194.4 L1107.0,1196.9 L1110.0,1199.1 L1110.7,1199.8 L1113.0,1199.9 L1116.0,1200.0 L1119.0,1200.6 L1122.0,1201.0 L1125.0,1201.4 L1128.0,1201.7 L1131.0,1201.9 L1134.0,1202.2 L1137.0,1202.4 L1138.5,1202.3 L1140.0,1202.2 L1143.0,1202.3 L1146.0,1202.0 L1149.0,1201.9 L1152.0,1202.2 L1155.0,1201.9 L1158.0,1201.7 L1161.0,1201.7 L1164.0,1202.1 L1167.0,1201.8 L1170.0,1201.5 L1173.0,1201.9 L1176.0,1201.6 L1179.0,1201.9 L1180.0,1201.6 L1182.0,1201.9 L1185.0,1201.9 L1188.0,1202.0 L1191.0,1201.8 L1194.0,1201.8 L1197.0,1201.4 L1200.0,1201.6 L1203.0,1201.5 L1206.0,1201.6 L1209.0,1201.3 L1212.0,1201.5 L1215.0,1201.7 L1218.0,1201.2 L1221.0,1201.2 L1224.0,1201.3 L1227.0,1201.5 L1230.0,1201.2 L1230.0,1201.4 L1233.0,1201.1 L1236.0,1201.2 L1239.0,1201.5 L1242.0,1201.8 L1245.0,1201.7 L1248.0,1201.8 L1251.0,1201.9 L1254.0,1201.9 L1257.0,1202.1 L1260.0,1202.0 L1263.0,1202.3 L1266.0,1202.7 L1269.0,1202.6 L1272.0,1202.8 L1275.0,1202.6 L1278.0,1202.9 L1281.0,1203.1 L1284.0,1203.2 L1287.0,1203.2 L1290.0,1203.3 L1293.0,1203.4 L1296.0,1203.7 L1299.0,1203.4 L1302.0,1203.4 L1305.0,1203.8 L1305.0,1203.8 L1308.0,1204.1 L1311.0,1204.0 L1314.0,1203.9 L1317.0,1204.1 L1320.0,1203.9 L1323.0,1203.9 L1326.0,1203.9 L1329.0,1204.1 L1332.0,1204.1 L1335.0,1204.0 L1338.0,1204.3 L1341.0,1204.6 L1344.0,1204.4 L1347.0,1204.6 L1350.0,1204.5 L1353.0,1204.8 L1356.0,1204.7 L1359.0,1204.6 L1362.0,1204.5 L1365.0,1204.4 L1368.0,1204.7 L1371.0,1204.7 L1374.0,1204.7 L1377.0,1204.8 L1380.0,1204.8 L1380.0,1205.0 L1383.0,1205.1 L1386.0,1204.8 L1389.0,1205.2 L1392.0,1205.1 L1395.0,1205.1 L1398.0,1205.0 L1401.0,1205.2 L1404.0,1205.3 L1407.0,1205.1 L1410.0,1205.0 L1413.0,1205.1 L1416.0,1205.3 L1419.0,1205.0 L1422.0,1205.2 L1425.0,1205.3 L1428.0,1205.1 L1431.0,1204.9 L1434.0,1204.8 L1437.0,1205.1 L1440.0,1205.1 L1443.0,1205.3 L1446.0,1205.3 L1449.0,1205.0 L1452.0,1204.8 L1455.0,1204.8 L1455.0,1204.9 L1458.0,1204.7 L1461.0,1204.9 L1464.0,1205.1 L1467.0,1205.1 L1470.0,1204.7 L1473.0,1204.9 L1476.0,1204.6 L1479.0,1204.6 L1482.0,1204.7 L1485.0,1204.3 L1488.0,1204.2 L1491.0,1204.5 L1494.0,1204.3 L1497.0,1204.2 L1500.0,1204.3 L1503.0,1204.3 L1506.0,1203.9 L1509.0,1204.0 L1512.0,1204.0 L1515.0,1204.0 L1518.0,1203.8 L1521.0,1203.9 L1524.0,1204.2 L1527.0,1203.9 L1530.0,1203.8 L1533.0,1203.6 L1534.0,1203.6 L1536.0,1202.9 L1538.0,1202.6 L1539.0,1202.5 L1542.0,1202.3 L1545.0,1202.7 L1548.0,1202.9 L1551.0,1202.4 L1554.0,1202.8 L1557.0,1202.6 L1560.0,1202.8 L1563.0,1202.9 L1566.0,1202.6 L1569.0,1202.8 L1572.0,1202.9 L1575.0,1203.0 L1578.0,1202.7 L1581.0,1202.9 L1584.0,1203.1 L1587.0,1203.0 L1590.0,1202.9 L1593.0,1202.7 L1596.0,1202.8 L1599.0,1202.8 L1602.0,1203.0 L1605.0,1203.1 L1608.0,1203.1 L1611.0,1202.8 L1613.0,1203.0 L1614.0,1203.1 L1617.0,1203.2 L1620.0,1203.1 L1623.0,1203.6 L1626.0,1203.7 L1629.0,1203.5 L1632.0,1204.0 L1635.0,1203.7 L1638.0,1203.8 L1641.0,1204.2 L1644.0,1204.3 L1647.0,1204.4 L1650.0,1204.6 L1653.0,1204.6 L1656.0,1204.6 L1659.0,1204.6 L1662.0,1204.6 L1663.0,1205.1 L1665.0,1205.1 L1668.0,1205.4 L1671.0,1205.5 L1674.0,1205.7 L1677.0,1205.7 L1680.0,1205.7 L1683.0,1205.9 L1686.0,1206.3 L1689.0,1206.1 L1692.0,1206.4 L1695.0,1206.4 L1698.0,1206.8 L1701.0,1206.8 L1704.0,1206.9 L1707.0,1207.1 L1710.0,1207.3 L1713.0,1207.7 L1713.0,1207.6 L1716.0,1207.3 L1719.0,1207.4 L1722.0,1206.9 L1725.0,1206.7 L1728.0,1206.4 L1731.0,1206.3 L1734.0,1206.5 L1737.0,1206.5 L1738.0,1206.3 L1740.0,1205.6 L1743.0,1204.8 L1746.0,1204.1 L1749.0,1203.6 L1752.0,1203.0 L1755.0,1202.2 L1758.0,1201.4 L1761.0,1200.3 L1763.0,1200.1 L1764.0,1199.8 L1767.0,1199.5 L1770.0,1199.4 L1773.0,1199.2 L1776.0,1198.8 L1779.0,1198.5 L1782.0,1198.6 L1785.0,1198.0 L1788.0,1198.1 L1791.0,1198.1 L1794.0,1197.9 L1795.0,1197.5 L1805.0,1197.5" fill="none" stroke="#7cae00" stroke-opacity="0.9" stroke-width="15.8" stroke-linejoin="round" stroke-linecap="butt"/>
<path d="M240.0,1185.6 L241.0,1184.1 L242.0,1185.1 L243.0,1185.2 L244.0,1182.4 L245.0,1184.6 L246.0,1184.5 L246.2,1183.3 L247.0,1181.1 L248.0,1183.7 L249.0,1185.3 L250.0,1182.5 L251.0,1184.3 L252.0,1185.7 L253.0,1184.2 L254.0,1181.4 L255.0,1184.3 L256.0,1182.4 L257.0,1185.3 L258.0,1184.3 L259.0,1182.5 L260.0,1185.4 L261.0,1184.1 L262.0,1182.7 L263.0,1185.1 L264.0,1185.4 L265.0,1185.6 L266.0,1185.7 L267.0,1184.8 L268.0,1185.1 L269.0,1184.8 L270.0,1184.6 L271.0,1187.1 L272.0,1184.2 L273.0,1183.1 L274.0,1186.5 L275.0,1185.6 L276.0,1186.1 L277.0,1186.3 L278.0,1184.6 L279.0,1184.4 L280.0,1183.7 L281.0,1187.2 L282.0,1187.9 L283.0,1186.8 L284.0,1184.0 L285.0,1188.3 L286.0,1187.6 L287.0,1186.0 L288.0,1183.5 L289.0,1187.5 L290.0,1186.3 L290.0,1186.3 L291.0,1183.1 L292.0,1186.5 L293.0,1182.9 L294.0,1184.9 L295.0,1183.4 L296.0,1184.5 L297.0,1187.3 L298.0,1186.7 L299.0,1187.2 L300.0,1184.8 L301.0,1185.2 L302.0,1186.1 L303.0,1183.3 L304.0,1185.0 L305.0,1187.7 L306.0,1186.6 L307.0,1187.1 L308.0,1184.3 L309.0,1186.2 L310.0,1186.7 L311.0,1186.2 L312.0,1184.9 L313.0,1183.6 L314.0,1182.8 L315.0,1187.1 L316.0,1187.3 L317.0,1184.1 L318.0,1186.5 L319.0,1184.8 L320.0,1185.9 L321.0,1187.1 L322.0,1184.6 L323.0,1186.1 L324.0,1184.3 L325.0,1185.9 L326.0,1183.8 L327.0,1185.2 L327.5,1185.5 L328.0,1188.7 L329.0,1185.2 L330.0,1188.6 L331.0,1185.4 L332.0,1189.8 L333.0,1185.8 L334.0,1185.5 L335.0,1186.1 L336.0,1189.7 L337.0,1188.4 L338.0,1189.6 L339.0,1187.7 L340.0,1185.9 L341.0,1187.0 L342.0,1187.7 L343.0,1190.4 L344.0,1186.4 L345.0,1186.8 L346.0,1189.8 L347.0,1186.3 L348.0,1190.6 L349.0,1187.1 L350.0,1188.3 L351.0,1188.6 L352.0,1189.7 L353.0,1185.4 L354.0,1189.1 L355.0,1185.9 L356.0,1188.6 L357.0,1185.3 L358.0,1189.1 L359.0,1186.3 L360.0,1186.5 L361.0,1185.9 L362.0,1187.5 L363.0,1187.7 L364.0,1191.1 L365.0,1189.4 L365.0,1188.2 L366.0,1191.5 L367.0,1187.6 L368.0,1187.9 L369.0,1191.7 L370.0,1191.7 L371.0,1190.5 L372.0,1192.1 L373.0,1187.7 L374.0,1191.9 L375.0,1191.1 L376.0,1191.0 L377.0,1192.0 L378.0,1188.4 L379.0,1189.0 L380.0,1188.8 L381.0,1190.5 L382.0,1190.9 L383.0,1191.0 L384.0,1190.2 L385.0,1191.8 L386.0,1192.1 L387.0,1191.5 L388.0,1187.7 L389.0,1188.0 L390.0,1188.1 L391.0,1188.5 L392.0,1190.4 L393.0,1188.8 L394.0,1191.2 L395.0,1190.0 L396.0,1190.4 L397.0,1192.2 L398.0,1193.4 L399.0,1189.8 L400.0,1190.7 L401.0,1193.9 L402.0,1190.2 L402.5,1189.3 L403.0,1190.0 L404.0,1193.1 L405.0,1192.5 L406.0,1193.5 L407.0,1191.2 L408.0,1188.9 L409.0,1190.1 L410.0,1192.0 L411.0,1190.2 L412.0,1188.8 L413.0,1189.8 L414.0,1190.1 L415.0,1189.7 L416.0,1190.2 L417.0,1188.8 L418.0,1188.3 L419.0,1192.2 L420.0,1192.0 L421.0,1190.3 L422.0,1188.6 L423.0,1189.4 L424.0,1190.5 L425.0,1192.0 L426.0,1189.8 L427.0,1192.5 L427.5,1190.4 L428.0,1188.9 L429.0,1191.5 L430.0,1191.8 L431.0,1192.2 L432.0,1193.2 L433.0,1189.8 L434.0,1191.9 L435.0,1193.8 L436.0,1190.6 L437.0,1190.2 L438.0,1190.9 L439.0,1191.4 L440.0,1192.1 L441.0,1191.5 L442.0,1193.1 L443.0,1190.7 L444.0,1191.6 L445.0,1193.2 L446.0,1192.6 L447.0,1194.6 L448.0,1194.5 L449.0,1191.1 L450.0,1191.5 L451.0,1192.8 L452.0,1193.2 L452.5,1192.5 L453.0,1195.0 L454.0,1192.0 L455.0,1193.6 L456.0,1192.2 L457.0,1195.8 L458.0,1194.3 L459.0,1196.2 L460.0,1191.9 L461.0,1194.7 L462.0,1194.0 L463.0,1191.5 L464.0,1195.4 L465.0,1195.8 L466.0,1192.1 L467.0,1196.5 L468.0,1195.9 L469.0,1195.0 L470.0,1194.7 L471.0,1193.4 L472.0,1192.4 L473.0,1194.5 L474.0,1196.4 L475.0,1193.1 L476.0,1194.3 L477.0,1193.3 L478.0,1195.2 L479.0,1196.5 L480.0,1196.0 L481.0,1193.1 L482.0,1193.7 L483.0,1191.7 L484.0,1194.3 L485.0,1195.9 L486.0,1195.9 L487.0,1192.1 L488.0,1194.0 L489.0,1192.4 L490.0,1194.2 L490.0,1196.6 L491.0,1193.6 L492.0,1196.4 L493.0,1196.9 L494.0,1196.2 L495.0,1193.1 L496.0,1196.6 L497.0,1196.6 L498.0,1196.9 L499.0,1192.0 L500.0,1191.8 L501.0,1193.2 L502.0,1194.2 L503.0,1193.7 L504.0,1191.9 L505.0,1194.7 L506.0,1194.9 L507.0,1194.8 L508.0,1194.3 L509.0,1194.5 L510.0,1195.3 L511.0,1192.4 L512.0,1194.4 L513.0,1193.1 L514.0,1193.2 L515.0,1196.6 L516.0,1194.7 L517.0,1194.5 L518.0,1193.9 L519.0,1195.2 L520.0,1192.6 L521.0,1194.9 L522.0,1191.8 L523.0,1196.2 L524.0,1192.3 L525.0,1195.3 L526.0,1194.2 L527.0,1193.6 L527.5,1193.0 L528.0,1193.3 L529.0,1195.5 L530.0,1194.5 L531.0,1194.8 L532.0,1193.6 L533.0,1195.7 L534.0,1193.7 L535.0,1195.1 L536.0,1195.8 L537.0,1195.1 L538.0,1195.2 L539.0,1195.0 L540.0,1193.0 L541.0,1196.9 L542.0,1195.6 L543.0,1195.9 L544.0,1197.1 L545.0,1194.7 L546.0,1194.3 L547.0,1194.1 L548.0,1194.1 L549.0,1194.0 L550.0,1194.1 L551.0,1193.5 L552.0,1194.9 L553.0,1193.9 L554.0,1194.2 L555.0,1195.6 L556.0,1193.8 L557.0,1196.5 L558.0,1196.1 L559.0,1194.0 L560.0,1196.8 L561.0,1193.8 L562.0,1193.6 L563.0,1198.3 L564.0,1193.8 L565.0,1193.4 L565.0,1197.6 L566.0,1193.1 L567.0,1196.0 L568.0,1195.2 L569.0,1193.3 L570.0,1193.1 L571.0,1196.8 L572.0,1194.0 L573.0,1193.4 L574.0,1194.5 L575.0,1196.0 L576.0,1193.9 L577.0,1192.8 L578.0,1196.2 L579.0,1192.7 L580.0,1192.5 L581.0,1192.1 L582.0,1196.9 L583.0,1194.4 L584.0,1196.0 L585.0,1195.3 L586.0,1197.5 L587.0,1194.6 L588.0,1194.8 L589.0,1196.3 L590.0,1192.8 L591.0,1194.5 L592.0,1196.3 L593.0,1195.3 L594.0,1194.7 L595.0,1197.0 L596.0,1194.5 L597.0,1196.1 L598.0,1194.4 L599.0,1193.0 L600.0,1194.5 L601.0,1193.8 L602.0,1193.0 L603.0,1194.4 L604.0,1193.8 L605.0,1195.6 L606.0,1197.1 L607.0,1197.1 L608.0,1197.6 L609.0,1194.6 L610.0,1196.2 L611.0,1197.1 L612.0,1194.6 L613.0,1197.2 L614.0,1193.3 L615.0,1197.4 L615.0,1197.2 L616.0,1197.9 L617.0,1197.3 L618.0,1196.9 L619.0,1195.7 L620.0,1197.3 L621.0,1198.3 L622.0,1197.0 L623.0,1197.4 L624.0,1199.1 L625.0,1195.7 L626.0,1195.7 L627.0,1194.0 L628.0,1197.9 L629.0,1196.5 L630.0,1196.5 L631.0,1194.4 L632.0,1194.2 L633.0,1195.7 L634.0,1197.7 L635.0,1195.2 L636.0,1195.6 L637.0,1195.7 L638.0,1197.9 L639.0,1194.5 L640.0,1198.2 L641.0,1194.2 L642.0,1197.7 L643.0,1198.3 L644.0,1197.1 L645.0,1198.7 L646.0,1196.7 L647.0,1196.3 L648.0,1197.6 L649.0,1197.1 L650.0,1199.4 L651.0,1198.6 L652.0,1199.1 L652.5,1200.7 L653.0,1199.7 L654.0,1199.8 L655.0,1200.6 L656.0,1200.3 L657.0,1199.3 L658.0,1197.3 L659.0,1198.0 L660.0,1199.1 L661.0,1199.4 L662.0,1200.0 L663.0,1199.4 L664.0,1199.1 L665.0,1197.1 L665.0,1198.9 L666.0,1196.8 L667.0,1199.0 L668.0,1196.7 L669.0,1195.8 L670.0,1200.4 L671.0,1199.9 L672.0,1197.1 L673.0,1195.9 L674.0,1199.8 L675.0,1199.7 L676.0,1196.8 L677.0,1200.1 L678.0,1200.3 L679.0,1198.9 L680.0,1197.2 L681.0,1196.0 L682.0,1195.9 L683.0,1197.6 L684.0,1198.8 L685.0,1198.7 L686.0,1196.9 L687.0,1199.9 L688.0,1196.6 L689.0,1199.5 L690.0,1197.6 L690.0,1196.7 L691.0,1197.7 L692.0,1200.7 L693.0,1197.9 L694.0,1196.9 L695.0,1199.2 L696.0,1198.6 L697.0,1199.7 L698.0,1199.6 L699.0,1200.3 L700.0,1201.3 L701.0,1198.4 L702.0,1199.8 L703.0,1197.2 L704.0,1197.7 L705.0,1196.8 L706.0,1200.4 L707.0,1197.7 L708.0,1199.4 L709.0,1200.2 L710.0,1197.9 L711.0,1197.1 L712.0,1197.3 L713.0,1198.5 L714.0,1198.0 L715.0,1196.2 L715.0,1199.8 L716.0,1198.5 L717.0,1199.3 L718.0,1198.9 L719.0,1198.0 L720.0,1198.2 L721.0,1197.8 L722.0,1196.7 L723.0,1198.6 L724.0,1199.2 L725.0,1195.7 L726.0,1196.0 L727.0,1196.4 L728.0,1198.0 L729.0,1200.1 L730.0,1198.9 L731.0,1200.6 L732.0,1198.8 L733.0,1199.6 L734.0,1198.3 L735.0,1199.9 L736.0,1198.3 L737.0,1197.2 L738.0,1198.8 L739.0,1199.4 L740.0,1200.7 L740.0,1198.2 L741.0,1200.8 L742.0,1200.2 L743.0,1197.4 L744.0,1199.9 L745.0,1200.8 L746.0,1201.1 L747.0,1200.2 L748.0,1199.3 L749.0,1200.1 L750.0,1200.8 L751.0,1200.5 L752.0,1198.8 L753.0,1201.5 L754.0,1200.1 L755.0,1198.2 L756.0,1199.0 L757.0,1198.3 L758.0,1199.9 L759.0,1198.6 L760.0,1200.4 L761.0,1199.5 L762.0,1201.7 L763.0,1201.3 L764.0,1199.1 L765.0,1201.2 L765.0,1200.4 L766.0,1199.2 L767.0,1201.4 L768.0,1198.0 L769.0,1199.5 L770.0,1200.3 L771.0,1198.8 L772.0,1200.0 L773.0,1201.4 L774.0,1199.5 L775.0,1200.9 L776.0,1199.3 L777.0,1202.1 L778.0,1202.2 L779.0,1199.7 L780.0,1201.8 L781.0,1200.4 L782.0,1199.4 L783.0,1199.9 L784.0,1201.6 L785.0,1200.8 L786.0,1201.0 L787.0,1199.8 L788.0,1200.1 L789.0,1200.9 L790.0,1201.5 L790.0,1202.4 L791.0,1201.4 L792.0,1201.2 L793.0,1203.2 L794.0,1202.8 L795.0,1203.2 L796.0,1203.6 L797.0,1202.8 L798.0,1202.4 L799.0,1201.9 L800.0,1203.4 L801.0,1203.6 L802.0,1204.0 L803.0,1203.9 L804.0,1202.6 L805.0,1202.6 L806.0,1204.0 L807.0,1201.5 L808.0,1202.3 L809.0,1202.8 L810.0,1202.9 L811.0,1203.0 L812.0,1201.9 L813.0,1202.9 L814.0,1202.1 L815.0,1202.8 L815.0,1202.2 L816.0,1202.8 L817.0,1203.8 L818.0,1203.4 L819.0,1203.0 L820.0,1203.9 L821.0,1204.6 L822.0,1203.9 L823.0,1204.1 L824.0,1204.8 L825.0,1205.7 L826.0,1204.4 L827.0,1206.2 L828.0,1205.0 L829.0,1207.1 L830.0,1205.4 L831.0,1207.0 L832.0,1205.2 L833.0,1206.4 L834.0,1205.9 L835.0,1207.2 L836.0,1207.3 L837.0,1206.0 L838.0,1206.0 L839.0,1207.6 L840.0,1207.1 L840.0,1207.0 L841.0,1207.1 L842.0,1207.3 L843.0,1207.9 L844.0,1207.6 L845.0,1207.3 L846.0,1208.1 L847.0,1209.5 L848.0,1209.4 L849.0,1209.7 L850.0,1210.4 L851.0,1209.8 L852.0,1210.0 L853.0,1210.9 L854.0,1209.7 L855.0,1211.0 L856.0,1209.9 L857.0,1210.9 L858.0,1210.8 L859.0,1211.5 L860.0,1210.3 L860.0,1211.4 L861.0,1211.9 L862.0,1210.7 L863.0,1212.1 L864.0,1211.6 L865.0,1212.6 L866.0,1213.3 L867.0,1211.9 L868.0,1212.8 L869.0,1213.1 L870.0,1214.2 L871.0,1214.3 L872.0,1213.2 L873.0,1213.6 L874.0,1214.3 L875.0,1215.1 L875.0,1215.1 L876.0,1214.9 L877.0,1215.6 L878.0,1215.7 L879.0,1215.9 L880.0,1215.8 L881.0,1215.4 L882.0,1216.3 L883.0,1216.5 L884.0,1217.0 L885.0,1216.2 L886.0,1216.2 L887.0,1216.9 L888.0,1217.0 L889.0,1217.3 L890.0,1217.0 L890.0,1217.6 L891.0,1217.2 L892.0,1216.7 L893.0,1216.3 L894.0,1216.6 L895.0,1215.8 L896.0,1216.5 L897.0,1215.6 L898.0,1216.1 L899.0,1215.1 L900.0,1215.4 L901.0,1215.3 L902.0,1215.0 L902.5,1214.9 L903.0,1214.7 L904.0,1213.6 L905.0,1213.1 L906.0,1212.2 L907.0,1211.3 L908.0,1210.5 L909.0,1209.7 L910.0,1209.0 L911.0,1208.1 L912.0,1207.4 L913.0,1206.6 L914.0,1206.0 L915.0,1205.1 L915.0,1204.9 L916.0,1203.9 L917.0,1202.8 L918.0,1201.7 L919.0,1200.2 L920.0,1199.1 L921.0,1197.9 L922.0,1196.5 L923.0,1195.3 L924.0,1194.2 L925.0,1192.9 L926.0,1191.9 L927.0,1190.5 L927.5,1189.9 L928.0,1189.5 L929.0,1188.5 L930.0,1187.7 L931.0,1186.7 L932.0,1185.5 L933.0,1184.5 L934.0,1183.6 L935.0,1182.6 L936.0,1181.6 L937.0,1180.5 L938.0,1179.7 L939.0,1178.7 L940.0,1177.6 L940.0,1177.6 L941.0,1177.3 L942.0,1176.6 L943.0,1176.6 L944.0,1175.9 L945.0,1175.5 L946.0,1175.3 L947.0,1174.9 L948.0,1174.6 L949.0,1174.3 L950.0,1173.7 L951.0,1173.4 L952.0,1173.0 L953.0,1172.9 L953.2,1172.4 L954.0,1172.4 L955.0,1172.2 L956.0,1171.8 L957.0,1171.6 L958.0,1171.4 L959.0,1171.2 L960.0,1171.0 L961.0,1170.8 L962.0,1170.5 L963.0,1170.3 L964.0,1170.1 L965.0,1169.8 L966.0,1169.5 L967.0,1169.4 L968.0,1169.1 L969.0,1169.0 L970.0,1168.5 L971.0,1168.4 L972.0,1168.1 L973.0,1168.0 L973.1,1168.0 L974.0,1167.9 L975.0,1167.7 L976.0,1167.8 L977.0,1167.4 L978.0,1167.6 L979.0,1167.3 L980.0,1167.2 L981.0,1166.9 L982.0,1166.7 L983.0,1166.6 L984.0,1166.7 L985.0,1166.5 L986.0,1166.6 L987.0,1166.2 L988.0,1166.4 L989.0,1166.4 L990.0,1166.2 L990.3,1166.3 L991.0,1166.3 L992.0,1166.5 L993.0,1166.2 L994.0,1166.5 L995.0,1166.6 L996.0,1166.8 L997.0,1167.0 L998.0,1167.1 L999.0,1167.0 L1000.0,1167.1 L1001.0,1167.2 L1002.0,1167.6 L1003.0,1167.7 L1004.0,1167.5 L1005.0,1167.6 L1006.0,1167.7 L1006.2,1168.1 L1007.0,1168.0 L1008.0,1168.4 L1009.0,1168.8 L1010.0,1168.8 L1011.0,1169.3 L1012.0,1169.5 L1013.0,1169.9 L1014.0,1170.1 L1015.0,1170.2 L1016.0,1170.8 L1017.0,1170.9 L1018.0,1171.4 L1019.0,1171.5 L1020.0,1171.9 L1021.0,1172.1 L1022.0,1172.1 L1023.0,1172.3 L1024.0,1173.0 L1025.0,1173.2 L1026.0,1173.5 L1027.0,1173.8 L1028.0,1173.9 L1029.0,1174.3 L1030.0,1174.5 L1031.0,1174.6 L1032.0,1175.1 L1032.6,1175.4 L1033.0,1175.3 L1034.0,1175.6 L1035.0,1175.6 L1036.0,1175.9 L1037.0,1176.2 L1038.0,1176.4 L1039.0,1176.7 L1040.0,1176.8 L1041.0,1177.0 L1042.0,1177.1 L1043.0,1177.4 L1044.0,1177.5 L1045.0,1177.6 L1046.0,1177.8 L1047.0,1178.2 L1048.0,1178.2 L1049.0,1178.5 L1050.0,1178.5 L1051.0,1179.1 L1052.0,1179.0 L1053.0,1179.3 L1054.0,1179.5 L1055.0,1180.0 L1056.0,1180.1 L1057.0,1180.1 L1058.0,1180.3 L1059.0,1180.7 L1059.1,1180.6 L1060.0,1180.6 L1061.0,1180.7 L1062.0,1181.1 L1063.0,1181.2 L1064.0,1181.5 L1065.0,1181.3 L1066.0,1181.7 L1067.0,1181.7 L1068.0,1182.0 L1069.0,1182.0 L1070.0,1182.1 L1071.0,1182.4 L1072.0,1182.4 L1073.0,1182.8 L1074.0,1182.6 L1075.0,1182.8 L1076.0,1183.2 L1077.0,1183.2 L1078.0,1183.4 L1079.0,1183.7 L1080.0,1183.8 L1081.0,1184.1 L1082.0,1184.2 L1083.0,1184.4 L1084.0,1184.2 L1085.0,1184.4 L1085.5,1184.5 L1086.0,1184.5 L1087.0,1184.8 L1088.0,1184.7 L1089.0,1185.0 L1090.0,1184.7 L1091.0,1184.9 L1092.0,1185.1 L1093.0,1185.2 L1094.0,1185.1 L1095.0,1185.4 L1096.0,1185.2 L1097.0,1185.3 L1098.0,1185.3 L1099.0,1185.3 L1100.0,1185.5 L1101.0,1185.7 L1102.0,1185.5 L1103.0,1185.7 L1104.0,1185.7 L1105.0,1186.0 L1106.0,1185.9 L1107.0,1186.0 L1108.0,1185.8 L1109.0,1186.2 L1110.0,1185.9 L1111.0,1186.0 L1112.0,1186.3 L1113.0,1186.3 L1114.0,1186.4 L1115.0,1186.5 L1116.0,1186.4 L1117.0,1186.7 L1118.0,1186.6 L1119.0,1186.8 L1120.0,1186.9 L1121.0,1186.9 L1122.0,1187.1 L1123.0,1187.2 L1124.0,1187.4 L1125.0,1187.1 L1125.2,1187.2 L1126.0,1187.1 L1127.0,1187.2 L1128.0,1187.3 L1129.0,1187.5 L1130.0,1187.3 L1131.0,1187.6 L1132.0,1187.7 L1133.0,1187.7 L1134.0,1187.7 L1135.0,1187.5 L1136.0,1187.7 L1137.0,1187.7 L1138.0,1187.5 L1139.0,1187.8 L1140.0,1187.6 L1141.0,1187.9 L1142.0,1187.9 L1143.0,1187.8 L1144.0,1187.7 L1145.0,1188.0 L1146.0,1187.8 L1147.0,1187.8 L1148.0,1188.2 L1149.0,1188.0 L1150.0,1188.0 L1151.0,1188.1 L1152.0,1188.3 L1153.0,1188.1 L1154.0,1188.2 L1155.0,1188.1 L1156.0,1188.2 L1157.0,1188.5 L1158.0,1188.4 L1159.0,1188.5 L1160.0,1188.6 L1161.0,1188.3 L1162.0,1188.5 L1163.0,1188.7 L1164.0,1188.6 L1165.0,1188.9 L1166.0,1188.6 L1167.0,1188.9 L1168.0,1188.8 L1169.0,1188.8 L1170.0,1189.0 L1171.0,1188.8 L1172.0,1188.8 L1173.0,1188.9 L1174.0,1189.1 L1175.0,1189.1 L1176.0,1189.1 L1177.0,1189.2 L1178.0,1189.2 L1179.0,1189.3 L1180.0,1189.0 L1180.0,1189.3 L1181.0,1189.3 L1182.0,1189.2 L1183.0,1189.2 L1184.0,1189.4 L1185.0,1189.3 L1186.0,1189.4 L1187.0,1189.5 L1188.0,1189.4 L1189.0,1189.5 L1190.0,1189.5 L1191.0,1189.7 L1192.0,1190.0 L1193.0,1189.9 L1194.0,1189.9 L1195.0,1189.9 L1196.0,1190.2 L1197.0,1190.3 L1198.0,1190.1 L1199.0,1190.5 L1200.0,1190.2 L1201.0,1190.3 L1202.0,1190.3 L1203.0,1190.6 L1204.0,1190.3 L1205.0,1190.6 L1206.0,1190.4 L1207.0,1190.5 L1208.0,1190.6 L1209.0,1190.9 L1210.0,1190.8 L1211.0,1191.2 L1212.0,1191.2 L1213.0,1191.2 L1214.0,1191.2 L1215.0,1191.3 L1216.0,1191.3 L1217.0,1191.6 L1218.0,1191.3 L1219.0,1191.3 L1220.0,1191.7 L1221.0,1191.6 L1222.0,1191.7 L1223.0,1191.6 L1224.0,1191.5 L1225.0,1191.6 L1226.0,1191.9 L1227.0,1191.7 L1228.0,1191.9 L1229.0,1191.9 L1230.0,1191.8 L1230.0,1191.7 L1231.0,1191.8 L1232.0,1192.1 L1233.0,1192.0 L1234.0,1192.1 L1235.0,1192.2 L1236.0,1192.3 L1237.0,1192.1 L1238.0,1192.2 L1239.0,1192.3 L1240.0,1192.3 L1241.0,1192.2 L1242.0,1192.3 L1243.0,1192.4 L1244.0,1192.5 L1245.0,1192.4 L1246.0,1192.2 L1247.0,1192.3 L1248.0,1192.6 L1249.0,1192.6 L1250.0,1192.5 L1251.0,1192.6 L1252.0,1192.5 L1253.0,1192.5 L1254.0,1192.5 L1255.0,1192.7 L1256.0,1192.8 L1257.0,1192.5 L1258.0,1192.4 L1259.0,1192.5 L1260.0,1192.8 L1261.0,1192.8 L1262.0,1192.5 L1263.0,1192.6 L1264.0,1192.7 L1265.0,1192.9 L1266.0,1192.8 L1267.0,1192.8 L1268.0,1193.0 L1269.0,1193.0 L1270.0,1193.1 L1271.0,1193.1 L1272.0,1193.2 L1273.0,1193.1 L1274.0,1193.2 L1275.0,1193.1 L1276.0,1193.2 L1277.0,1193.3 L1278.0,1193.3 L1279.0,1193.3 L1280.0,1193.3 L1281.0,1193.2 L1282.0,1193.2 L1283.0,1193.2 L1284.0,1193.5 L1285.0,1193.4 L1286.0,1193.5 L1287.0,1193.5 L1288.0,1193.3 L1289.0,1193.4 L1290.0,1193.4 L1291.0,1193.7 L1292.0,1193.6 L1293.0,1193.4 L1294.0,1193.5 L1295.0,1193.6 L1296.0,1193.5 L1297.0,1193.6 L1298.0,1193.5 L1299.0,1193.5 L1300.0,1193.7 L1301.0,1193.4 L1302.0,1193.6 L1303.0,1193.8 L1304.0,1193.9 L1305.0,1193.8 L1305.0,1193.8 L1306.0,1194.0 L1307.0,1194.0 L1308.0,1194.0 L1309.0,1193.9 L1310.0,1193.7 L1311.0,1194.0 L1312.0,1193.7 L1313.0,1193.9 L1314.0,1193.7 L1315.0,1194.0 L1316.0,1193.9 L1317.0,1193.9 L1318.0,1194.0 L1319.0,1193.9 L1320.0,1194.3 L1321.0,1194.1 L1322.0,1194.3 L1323.0,1193.9 L1324.0,1193.8 L1325.0,1193.9 L1326.0,1193.9 L1327.0,1194.3 L1328.0,1193.9 L1329.0,1194.2 L1330.0,1194.3 L1331.0,1194.1 L1332.0,1194.2 L1333.0,1194.2 L1334.0,1194.1 L1335.0,1194.4 L1336.0,1194.4 L1337.0,1194.2 L1338.0,1194.4 L1339.0,1194.4 L1340.0,1194.5 L1341.0,1194.3 L1342.0,1194.3 L1343.0,1194.6 L1344.0,1194.6 L1345.0,1194.6 L1346.0,1194.4 L1347.0,1194.5 L1348.0,1194.5 L1349.0,1194.6 L1350.0,1194.7 L1351.0,1194.5 L1352.0,1194.5 L1353.0,1194.7 L1354.0,1194.6 L1355.0,1194.6 L1356.0,1194.5 L1357.0,1194.8 L1358.0,1194.7 L1359.0,1194.8 L1360.0,1194.6 L1361.0,1194.8 L1362.0,1194.8 L1363.0,1194.6 L1364.0,1194.8 L1365.0,1194.5 L1366.0,1194.8 L1367.0,1194.9 L1368.0,1194.9 L1369.0,1194.8 L1370.0,1194.8 L1371.0,1194.7 L1372.0,1195.0 L1373.0,1194.9 L1374.0,1195.0 L1375.0,1194.9 L1376.0,1194.9 L1377.0,1195.2 L1378.0,1195.2 L1379.0,1195.2 L1380.0,1195.2 L1380.0,1195.3 L1381.0,1195.0 L1382.0,1195.0 L1383.0,1195.2 L1384.0,1195.2 L1385.0,1195.2 L1386.0,1195.2 L1387.0,1195.1 L1388.0,1194.9 L1389.0,1195.2 L1390.0,1195.2 L1391.0,1195.1 L1392.0,1195.0 L1393.0,1195.2 L1394.0,1195.0 L1395.0,1195.0 L1396.0,1195.1 L1397.0,1195.1 L1398.0,1195.2 L1399.0,1194.9 L1400.0,1195.3 L1401.0,1195.0 L1402.0,1195.1 L1403.0,1194.9 L1404.0,1195.0 L1405.0,1195.1 L1406.0,1195.3 L1407.0,1194.9 L1408.0,1194.9 L1409.0,1195.2 L1410.0,1195.3 L1411.0,1195.1 L1412.0,1195.2 L1413.0,1195.3 L1414.0,1195.2 L1415.0,1195.2 L1416.0,1195.2 L1417.0,1195.2 L1418.0,1195.2 L1419.0,1195.2 L1420.0,1195.1 L1421.0,1195.3 L1422.0,1195.4 L1423.0,1195.5 L1424.0,1195.2 L1425.0,1195.3 L1426.0,1195.5 L1427.0,1195.6 L1428.0,1195.3 L1429.0,1195.3 L1430.0,1195.5 L1431.0,1195.3 L1432.0,1195.5 L1433.0,1195.6 L1434.0,1195.3 L1435.0,1195.3 L1436.0,1195.4 L1437.0,1195.2 L1438.0,1195.3 L1439.0,1195.4 L1440.0,1195.3 L1441.0,1195.4 L1442.0,1195.4 L1443.0,1195.4 L1444.0,1195.5 L1445.0,1195.2 L1446.0,1195.3 L1447.0,1195.3 L1448.0,1195.3 L1449.0,1195.6 L1450.0,1195.6 L1451.0,1195.7 L1452.0,1195.5 L1453.0,1195.7 L1454.0,1195.7 L1455.0,1195.6 L1455.0,1195.7 L1456.0,1195.6 L1457.0,1195.3 L1458.0,1195.4 L1459.0,1195.4 L1460.0,1195.5 L1461.0,1195.5 L1462.0,1195.6 L1463.0,1195.3 L1464.0,1195.6 L1465.0,1195.3 L1466.0,1195.6 L1467.0,1195.4 L1468.0,1195.6 L1469.0,1195.6 L1470.0,1195.4 L1471.0,1195.7 L1472.0,1195.7 L1473.0,1195.5 L1474.0,1195.5 L1475.0,1195.7 L1476.0,1195.5 L1477.0,1195.5 L1478.0,1195.5 L1479.0,1195.6 L1480.0,1195.5 L1481.0,1195.5 L1482.0,1195.3 L1483.0,1195.4 L1484.0,1195.6 L1485.0,1195.5 L1486.0,1195.4 L1487.0,1195.7 L1488.0,1195.6 L1489.0,1195.5 L1490.0,1195.8 L1491.0,1195.6 L1492.0,1195.5 L1493.0,1195.6 L1494.0,1195.5 L1495.0,1195.8 L1496.0,1195.8 L1497.0,1195.5 L1498.0,1195.5 L1499.0,1195.8 L1500.0,1195.7 L1501.0,1195.6 L1502.0,1195.7 L1503.0,1195.5 L1504.0,1195.6 L1505.0,1195.7 L1506.0,1195.8 L1507.0,1195.7 L1508.0,1195.7 L1509.0,1195.4 L1510.0,1195.6 L1511.0,1195.6 L1512.0,1195.7 L1513.0,1195.6 L1514.0,1195.8 L1515.0,1195.7 L1516.0,1195.8 L1517.0,1195.9 L1518.0,1195.9 L1519.0,1195.6 L1520.0,1195.9 L1521.0,1195.8 L1522.0,1195.8 L1523.0,1195.6 L1524.0,1195.6 L1525.0,1195.9 L1526.0,1195.7 L1527.0,1195.9 L1528.0,1195.9 L1529.0,1195.7 L1530.0,1195.7 L1531.0,1195.7 L1532.0,1195.7 L1533.0,1195.8 L1534.0,1195.9 L1534.0,1195.6 L1535.0,1195.8 L1536.0,1195.9 L1537.0,1195.9 L1538.0,1196.1 L1538.0,1196.1 L1539.0,1196.4 L1540.0,1196.2 L1541.0,1196.4 L1542.0,1196.6 L1543.0,1196.4 L1544.0,1196.7 L1545.0,1196.4 L1546.0,1196.5 L1547.0,1196.5 L1548.0,1196.5 L1549.0,1196.6 L1550.0,1196.8 L1551.0,1196.8 L1552.0,1196.6 L1553.0,1196.6 L1554.0,1196.6 L1555.0,1196.7 L1556.0,1196.9 L1557.0,1196.7 L1558.0,1196.7 L1559.0,1197.0 L1560.0,1196.9 L1561.0,1196.8 L1562.0,1197.2 L1563.0,1196.9 L1564.0,1197.3 L1565.0,1197.0 L1566.0,1197.4 L1567.0,1197.3 L1568.0,1197.3 L1569.0,1197.2 L1570.0,1197.5 L1571.0,1197.4 L1572.0,1197.5 L1573.0,1197.4 L1574.0,1197.3 L1575.0,1197.4 L1576.0,1197.4 L1577.0,1197.6 L1578.0,1197.6 L1579.0,1197.7 L1580.0,1197.5 L1581.0,1197.6 L1582.0,1197.9 L1583.0,1197.8 L1584.0,1197.9 L1585.0,1197.7 L1586.0,1198.0 L1587.0,1197.9 L1588.0,1197.8 L1589.0,1197.9 L1590.0,1197.8 L1591.0,1197.9 L1592.0,1197.9 L1593.0,1198.0 L1594.0,1198.0 L1595.0,1198.0 L1596.0,1198.3 L1597.0,1198.2 L1598.0,1198.2 L1599.0,1198.4 L1600.0,1198.2 L1601.0,1198.3 L1602.0,1198.4 L1603.0,1198.5 L1604.0,1198.7 L1605.0,1198.5 L1606.0,1198.5 L1607.0,1198.6 L1608.0,1198.7 L1609.0,1198.5 L1610.0,1198.8 L1611.0,1198.6 L1612.0,1198.4 L1613.0,1198.5 L1613.0,1198.5 L1614.0,1198.9 L1615.0,1198.7 L1616.0,1199.0 L1617.0,1199.2 L1618.0,1199.0 L1619.0,1199.3 L1620.0,1198.8 L1621.0,1198.8 L1622.0,1199.6 L1623.0,1199.5 L1624.0,1199.2 L1625.0,1199.5 L1626.0,1200.3 L1627.0,1199.3 L1628.0,1200.3 L1629.0,1199.3 L1630.0,1200.3 L1631.0,1199.8 L1632.0,1199.2 L1633.0,1199.5 L1634.0,1199.7 L1635.0,1200.1 L1636.0,1200.4 L1637.0,1200.6 L1638.0,1199.6 L1639.0,1200.3 L1640.0,1200.8 L1641.0,1199.9 L1642.0,1201.1 L1643.0,1200.2 L1644.0,1200.9 L1645.0,1200.8 L1646.0,1200.9 L1647.0,1201.5 L1648.0,1200.2 L1649.0,1200.5 L1650.0,1201.9 L1651.0,1201.3 L1652.0,1202.0 L1653.0,1200.7 L1654.0,1201.0 L1655.0,1201.7 L1656.0,1202.2 L1657.0,1201.7 L1658.0,1200.9 L1659.0,1201.9 L1660.0,1202.8 L1661.0,1203.2 L1662.0,1201.5 L1663.0,1202.2 L1663.0,1203.4 L1664.0,1203.1 L1665.0,1202.8 L1666.0,1201.8 L1667.0,1202.6 L1668.0,1202.5 L1669.0,1202.6 L1670.0,1202.5 L1671.0,1201.4 L1672.0,1203.2 L1673.0,1202.2 L1674.0,1201.4 L1675.0,1202.7 L1676.0,1202.1 L1677.0,1201.6 L1678.0,1203.1 L1679.0,1201.6 L1680.0,1204.4 L1681.0,1203.5 L1682.0,1202.7 L1683.0,1204.9 L1684.0,1204.0 L1685.0,1202.4 L1686.0,1204.7 L1687.0,1202.7 L1688.0,1203.5 L1689.0,1204.5 L1690.0,1204.8 L1691.0,1205.8 L1692.0,1205.5 L1693.0,1203.5 L1694.0,1204.9 L1695.0,1203.6 L1696.0,1205.7 L1697.0,1205.0 L1698.0,1205.9 L1699.0,1203.9 L1700.0,1205.4 L1701.0,1205.2 L1702.0,1203.8 L1703.0,1206.0 L1704.0,1207.2 L1705.0,1206.3 L1706.0,1207.1 L1707.0,1203.8 L1708.0,1205.8 L1709.0,1205.5 L1710.0,1205.0 L1711.0,1206.5 L1712.0,1205.1 L1713.0,1203.9 L1713.0,1206.1 L1714.0,1207.1 L1715.0,1205.3 L1716.0,1206.5 L1717.0,1204.8 L1718.0,1208.5 L1719.0,1208.8 L1720.0,1205.1 L1721.0,1208.0 L1722.0,1209.5 L1723.0,1207.7 L1724.0,1205.8 L1725.0,1208.4 L1726.0,1207.4 L1727.0,1206.6 L1728.0,1205.2 L1729.0,1206.2 L1730.0,1209.0 L1731.0,1207.7 L1732.0,1208.2 L1733.0,1209.0 L1734.0,1208.0 L1735.0,1209.9 L1736.0,1209.9 L1737.0,1206.8 L1738.0,1209.8 L1739.0,1207.1 L1740.0,1209.5 L1741.0,1211.5 L1742.0,1211.0 L1743.0,1208.4 L1744.0,1211.4 L1745.0,1207.7 L1746.0,1210.2 L1747.0,1210.6 L1748.0,1207.2 L1749.0,1208.4 L1750.0,1209.8 L1751.0,1212.1 L1752.0,1208.2 L1753.0,1209.7 L1753.0,1211.7 L1754.0,1208.2 L1755.0,1211.2 L1756.0,1210.6 L1757.0,1210.7 L1758.0,1208.4 L1759.0,1209.5 L1760.0,1207.1 L1761.0,1207.5 L1762.0,1209.8 L1763.0,1206.2 L1764.0,1208.1 L1765.0,1206.0 L1766.0,1209.5 L1767.0,1208.9 L1768.0,1206.5 L1769.0,1210.2 L1770.0,1209.2 L1771.0,1208.9 L1772.0,1206.0 L1773.0,1209.2 L1774.0,1208.4 L1775.0,1206.6 L1775.5,1205.0 L1776.0,1208.1 L1777.0,1205.4 L1778.0,1208.0 L1779.0,1206.9 L1780.0,1205.8 L1781.0,1206.1 L1782.0,1205.2 L1783.0,1205.8 L1784.0,1207.1 L1785.0,1205.1 L1786.0,1203.8 L1787.0,1204.8 L1788.0,1205.6 L1789.0,1201.8 L1790.0,1203.6 L1791.0,1205.1 L1792.0,1203.4 L1793.0,1201.9 L1794.0,1201.6 L1795.0,1203.8 L1795.0,1203.1 L1805.0,1203.1" fill="none" stroke="#00a9ff" stroke-opacity="0.9" stroke-width="15.8" stroke-linejoin="round" stroke-linecap="butt"/>
</g>
<rect x="1294" y="0" width="523" height="656" fill="#fff"/>
<rect x="1337" y="149" width="110" height="110" fill="#f2f2f2"/>
<path d="M1345,204 H1440" stroke="#8f8f8f" stroke-width="15.8" fill="none"/>
<text x="1465" y="225.5" class="ll">Asphalt</text>
<rect x="1337" y="267" width="110" height="110" fill="#f2f2f2"/>
<path d="M1345,322 H1440" stroke="#cd9600" stroke-width="15.8" fill="none"/>
<text x="1465" y="343.5" class="ll">Rock</text>
<rect x="1337" y="385" width="110" height="110" fill="#f2f2f2"/>
<path d="M1345,440 H1440" stroke="#7cae00" stroke-width="15.8" fill="none"/>
<text x="1465" y="461.5" class="ll">Vegetation</text>
<rect x="1337" y="503" width="110" height="110" fill="#f2f2f2"/>
<path d="M1345,558 H1440" stroke="#00a9ff" stroke-width="15.8" fill="none"/>
<text x="1465" y="579.5" class="ll">Water</text>
<text x="1332.5" y="110.8" class="lt">Materials</text>
<path d="M240.4,38.4 V1230.8" stroke="#000" stroke-width="10.8" fill="none"/>
<path d="M235.0,1225.4 H1788.0" stroke="#000" stroke-width="10.8" fill="none"/>
<path d="M406.3,1225.4 v19.4 M682.6,1225.4 v19.4 M959.0,1225.4 v19.4 M1235.3,1225.4 v19.4 M1511.7,1225.4 v19.4 M1788.0,1225.4 v19.4 M240.4,1225.4 h-19.4 M240.4,928.7 h-19.4 M240.4,631.9 h-19.4 M240.4,335.2 h-19.4 M240.4,38.4 h-19.4" stroke="#000" stroke-width="10.8" fill="none"/>
<text transform="translate(406.3,1308) scale(0.985,1.03)" class="tk" text-anchor="middle">1</text>
<text transform="translate(682.6,1308) scale(0.985,1.03)" class="tk" text-anchor="middle">2</text>
<text transform="translate(959.0,1308) scale(0.985,1.03)" class="tk" text-anchor="middle">3</text>
<text transform="translate(1235.3,1308) scale(0.985,1.03)" class="tk" text-anchor="middle">4</text>
<text transform="translate(1511.7,1308) scale(0.985,1.03)" class="tk" text-anchor="middle">5</text>
<text transform="translate(1788.0,1308) scale(0.985,1.03)" class="tk" text-anchor="middle">6</text>
<text transform="translate(206.5,1250.7) scale(0.985,1.03)" class="tk" text-anchor="end">0</text>
<text transform="translate(206.5,954.0) scale(0.985,1.03)" class="tk" text-anchor="end">20</text>
<text transform="translate(206.5,657.2) scale(0.985,1.03)" class="tk" text-anchor="end">40</text>
<text transform="translate(206.5,360.5) scale(0.985,1.03)" class="tk" text-anchor="end">60</text>
<text transform="translate(206.5,63.7) scale(0.985,1.03)" class="tk" text-anchor="end">80</text>
<text x="683.5" y="1405" class="at" style="letter-spacing:0.28px">Wavelength (</text>
<text transform="translate(1191,1405) scale(1.18,1)" class="at mu">μ</text>
<text x="1243.5" y="1405" class="at">m)</text>
<text transform="translate(79.3,632.5) rotate(-90)" class="at" style="font-size:81.8px" text-anchor="middle">Spectral reflectance (%)</text>
</svg>
</body></html>
